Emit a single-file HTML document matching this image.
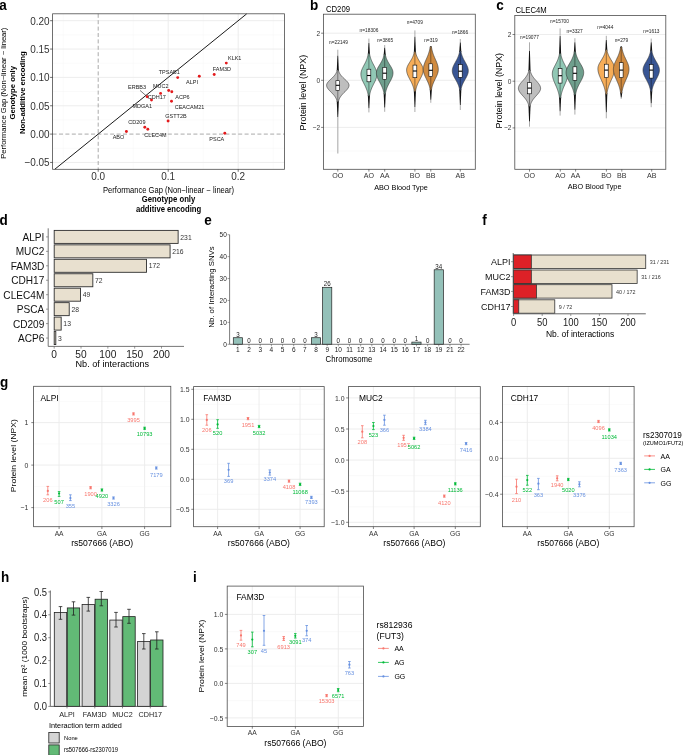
<!DOCTYPE html><html><head><meta charset="utf-8"><style>html,body{margin:0;padding:0;background:#fff;width:685px;height:755px;overflow:hidden}svg{display:block;will-change:transform}text{font-family:"Liberation Sans",sans-serif}</style></head><body><svg width="685" height="755" viewBox="0 0 685 755" font-family="Liberation Sans, sans-serif"><rect x="52.6" y="13.8" width="231.9" height="155.5" fill="#fff" stroke="none" stroke-width="1"/>
<line x1="63.2" y1="13.8" x2="63.2" y2="169.3" stroke="#f4f4f4" stroke-width="0.5"/>
<line x1="133.2" y1="13.8" x2="133.2" y2="169.3" stroke="#f4f4f4" stroke-width="0.5"/>
<line x1="203.2" y1="13.8" x2="203.2" y2="169.3" stroke="#f4f4f4" stroke-width="0.5"/>
<line x1="273.2" y1="13.8" x2="273.2" y2="169.3" stroke="#f4f4f4" stroke-width="0.5"/>
<line x1="52.6" y1="148.28" x2="284.5" y2="148.28" stroke="#f4f4f4" stroke-width="0.5"/>
<line x1="52.6" y1="119.92" x2="284.5" y2="119.92" stroke="#f4f4f4" stroke-width="0.5"/>
<line x1="52.6" y1="91.57" x2="284.5" y2="91.57" stroke="#f4f4f4" stroke-width="0.5"/>
<line x1="52.6" y1="63.22" x2="284.5" y2="63.22" stroke="#f4f4f4" stroke-width="0.5"/>
<line x1="52.6" y1="34.88" x2="284.5" y2="34.88" stroke="#f4f4f4" stroke-width="0.5"/>
<line x1="168.2" y1="13.8" x2="168.2" y2="169.3" stroke="#ebebeb" stroke-width="0.9"/>
<line x1="238.2" y1="13.8" x2="238.2" y2="169.3" stroke="#ebebeb" stroke-width="0.9"/>
<line x1="52.6" y1="162.45" x2="284.5" y2="162.45" stroke="#ebebeb" stroke-width="0.9"/>
<line x1="52.6" y1="105.75" x2="284.5" y2="105.75" stroke="#ebebeb" stroke-width="0.9"/>
<line x1="52.6" y1="77.4" x2="284.5" y2="77.4" stroke="#ebebeb" stroke-width="0.9"/>
<line x1="52.6" y1="49.05" x2="284.5" y2="49.05" stroke="#ebebeb" stroke-width="0.9"/>
<line x1="52.6" y1="20.7" x2="284.5" y2="20.7" stroke="#ebebeb" stroke-width="0.9"/>
<line x1="98.2" y1="13.8" x2="98.2" y2="169.3" stroke="#a0a0a0" stroke-width="0.9" stroke-dasharray="4,2.4"/>
<line x1="52.6" y1="134.1" x2="284.5" y2="134.1" stroke="#a0a0a0" stroke-width="0.9" stroke-dasharray="4,2.4"/>
<line x1="54.74" y1="169.3" x2="246.72" y2="13.8" stroke="#1a1a1a" stroke-width="1"/>
<line x1="140" y1="90.4" x2="147.2" y2="96.7" stroke="#1a1a1a" stroke-width="0.6"/>
<circle cx="226.3" cy="63.1" r="1.45" fill="#e31a1c"/>
<circle cx="214.2" cy="74.5" r="1.45" fill="#e31a1c"/>
<circle cx="199.3" cy="76.3" r="1.45" fill="#e31a1c"/>
<circle cx="177.7" cy="77.6" r="1.45" fill="#e31a1c"/>
<circle cx="168.7" cy="90.5" r="1.45" fill="#e31a1c"/>
<circle cx="171.8" cy="91.8" r="1.45" fill="#e31a1c"/>
<circle cx="160.6" cy="93.4" r="1.45" fill="#e31a1c"/>
<circle cx="147.2" cy="96.7" r="1.45" fill="#e31a1c"/>
<circle cx="151.5" cy="100" r="1.45" fill="#e31a1c"/>
<circle cx="171.5" cy="101.3" r="1.45" fill="#e31a1c"/>
<circle cx="168.1" cy="121" r="1.45" fill="#e31a1c"/>
<circle cx="144.8" cy="127.2" r="1.45" fill="#e31a1c"/>
<circle cx="147.8" cy="129.3" r="1.45" fill="#e31a1c"/>
<circle cx="126.4" cy="131.5" r="1.45" fill="#e31a1c"/>
<circle cx="224.8" cy="133.2" r="1.45" fill="#e31a1c"/>
<text x="0" y="0" font-size="5.5" text-anchor="middle" fill="#222" transform="translate(234.7 59.84) scale(1 1.08)">KLK1</text>
<text x="0" y="0" font-size="5.5" text-anchor="middle" fill="#222" transform="translate(221.9 70.74) scale(1 1.08)">FAM3D</text>
<text x="0" y="0" font-size="5.5" text-anchor="middle" fill="#222" transform="translate(192 83.74) scale(1 1.08)">ALPI</text>
<text x="0" y="0" font-size="5.5" text-anchor="middle" fill="#222" transform="translate(169.3 74.44) scale(1 1.08)">TPSAB1</text>
<text x="0" y="0" font-size="5.5" text-anchor="middle" fill="#222" transform="translate(160.8 87.64) scale(1 1.08)">MUC2</text>
<text x="0" y="0" font-size="5.5" text-anchor="middle" fill="#222" transform="translate(182.5 98.54) scale(1 1.08)">ACP6</text>
<text x="0" y="0" font-size="5.5" text-anchor="middle" fill="#222" transform="translate(137 89.24) scale(1 1.08)">ERBB3</text>
<text x="0" y="0" font-size="5.5" text-anchor="middle" fill="#222" transform="translate(156.8 98.84) scale(1 1.08)">CDH17</text>
<text x="0" y="0" font-size="5.5" text-anchor="middle" fill="#222" transform="translate(142.3 108.24) scale(1 1.08)">MDGA1</text>
<text x="0" y="0" font-size="5.5" text-anchor="middle" fill="#222" transform="translate(189.5 108.54) scale(1 1.08)">CEACAM21</text>
<text x="0" y="0" font-size="5.5" text-anchor="middle" fill="#222" transform="translate(176 117.84) scale(1 1.08)">GSTT2B</text>
<text x="0" y="0" font-size="5.5" text-anchor="middle" fill="#222" transform="translate(136.9 123.74) scale(1 1.08)">CD209</text>
<text x="0" y="0" font-size="5.5" text-anchor="middle" fill="#222" transform="translate(155.5 137.14) scale(1 1.08)">CLEC4M</text>
<text x="0" y="0" font-size="5.5" text-anchor="middle" fill="#222" transform="translate(118.5 138.64) scale(1 1.08)">ABO</text>
<text x="0" y="0" font-size="5.5" text-anchor="middle" fill="#222" transform="translate(216.8 141.14) scale(1 1.08)">PSCA</text>
<rect x="52.6" y="13.8" width="231.9" height="155.5" fill="none" stroke="#4d4d4d" stroke-width="0.8"/>
<line x1="98.2" y1="169.3" x2="98.2" y2="171.8" stroke="#333333" stroke-width="0.7"/>
<text x="0" y="0" font-size="10" text-anchor="middle" fill="#333333" transform="translate(98.2 180.49) scale(1 1.08)">0.0</text>
<line x1="168.2" y1="169.3" x2="168.2" y2="171.8" stroke="#333333" stroke-width="0.7"/>
<text x="0" y="0" font-size="10" text-anchor="middle" fill="#333333" transform="translate(168.2 180.49) scale(1 1.08)">0.1</text>
<line x1="238.2" y1="169.3" x2="238.2" y2="171.8" stroke="#333333" stroke-width="0.7"/>
<text x="0" y="0" font-size="10" text-anchor="middle" fill="#333333" transform="translate(238.2 180.49) scale(1 1.08)">0.2</text>
<line x1="50.1" y1="162.45" x2="52.6" y2="162.45" stroke="#333333" stroke-width="0.7"/>
<text x="0" y="0" font-size="10" text-anchor="end" fill="#333333" transform="translate(49.6 166.34) scale(1 1.08)">−0.05</text>
<line x1="50.1" y1="134.1" x2="52.6" y2="134.1" stroke="#333333" stroke-width="0.7"/>
<text x="0" y="0" font-size="10" text-anchor="end" fill="#333333" transform="translate(49.6 137.99) scale(1 1.08)">0.00</text>
<line x1="50.1" y1="105.75" x2="52.6" y2="105.75" stroke="#333333" stroke-width="0.7"/>
<text x="0" y="0" font-size="10" text-anchor="end" fill="#333333" transform="translate(49.6 109.64) scale(1 1.08)">0.05</text>
<line x1="50.1" y1="77.4" x2="52.6" y2="77.4" stroke="#333333" stroke-width="0.7"/>
<text x="0" y="0" font-size="10" text-anchor="end" fill="#333333" transform="translate(49.6 81.29) scale(1 1.08)">0.10</text>
<line x1="50.1" y1="49.05" x2="52.6" y2="49.05" stroke="#333333" stroke-width="0.7"/>
<text x="0" y="0" font-size="10" text-anchor="end" fill="#333333" transform="translate(49.6 52.94) scale(1 1.08)">0.15</text>
<line x1="50.1" y1="20.7" x2="52.6" y2="20.7" stroke="#333333" stroke-width="0.7"/>
<text x="0" y="0" font-size="10" text-anchor="end" fill="#333333" transform="translate(49.6 24.59) scale(1 1.08)">0.20</text>
<text x="0" y="0" font-size="7.6" text-anchor="middle" fill="#000" transform="translate(168.55 192.56) scale(1 1.08)">Performance Gap (Non−linear − linear)</text>
<text x="0" y="0" font-size="7.7" text-anchor="middle" fill="#000" font-weight="bold" transform="translate(168.55 201.69) scale(1 1.08)">Genotype only</text>
<text x="0" y="0" font-size="7.7" text-anchor="middle" fill="#000" font-weight="bold" transform="translate(168.55 212.19) scale(1 1.08)">additive encoding</text>
<text x="0" y="2.53" font-size="7.04" text-anchor="middle" fill="#000" transform="translate(3.8 93.2) scale(1 1.08) rotate(-90)">Performance Gap (Non−linear − linear)</text>
<text x="0" y="2.57" font-size="7.13" text-anchor="middle" fill="#000" font-weight="bold" transform="translate(12.5 92.7) scale(1 1.08) rotate(-90)">Genotype only</text>
<text x="0" y="2.57" font-size="7.13" text-anchor="middle" fill="#000" font-weight="bold" transform="translate(22.3 92.7) scale(1 1.08) rotate(-90)">Non-additive encoding</text>
<text x="0" y="0" font-size="13.5" font-weight="bold" fill="#000" transform="translate(-0.8 10.4) scale(1 1.08)">a</text>
<rect x="323.4" y="14.2" width="151.9" height="155.1" fill="#fff" stroke="none" stroke-width="1"/>
<line x1="323.4" y1="56.75" x2="475.3" y2="56.75" stroke="#f4f4f4" stroke-width="0.5"/>
<line x1="323.4" y1="103.85" x2="475.3" y2="103.85" stroke="#f4f4f4" stroke-width="0.5"/>
<line x1="323.4" y1="150.95" x2="475.3" y2="150.95" stroke="#f4f4f4" stroke-width="0.5"/>
<line x1="323.4" y1="33.2" x2="475.3" y2="33.2" stroke="#ebebeb" stroke-width="0.9"/>
<line x1="323.4" y1="80.3" x2="475.3" y2="80.3" stroke="#ebebeb" stroke-width="0.9"/>
<line x1="323.4" y1="127.4" x2="475.3" y2="127.4" stroke="#ebebeb" stroke-width="0.9"/>
<line x1="337.8" y1="49.7" x2="337.8" y2="55.82" stroke="#888" stroke-width="0.7"/>
<path d="M337.4,55.82 L338.2,55.82 L338.85,71.1 L336.75,71.1 Z" fill="#111" stroke="none" stroke-width="1"/>
<line x1="337.8" y1="117" x2="337.8" y2="153.6" stroke="#b5b5b5" stroke-width="1.2"/>
<line x1="337.8" y1="117" x2="337.8" y2="117" stroke="#888" stroke-width="0.7"/>
<path d="M337.4,117 L338.2,117 L338.85,100.7 L336.75,100.7 Z" fill="#111" stroke="none" stroke-width="1"/>
<path d="M338.4,70.1 L338.57,70.76 L338.77,71.42 L339.02,72.07 L339.32,72.73 L339.66,73.39 L340.05,74.05 L340.5,74.71 L341.01,75.37 L341.57,76.02 L342.17,76.68 L342.82,77.34 L343.5,78 L344.21,78.66 L344.92,79.32 L345.62,79.97 L346.3,80.63 L346.94,81.29 L347.52,81.95 L348.02,82.61 L348.43,83.27 L348.73,83.92 L348.93,84.58 L349,85.24 L348.96,85.9 L348.81,86.56 L348.56,87.22 L348.22,87.88 L347.8,88.53 L347.3,89.19 L346.74,89.85 L346.14,90.51 L345.5,91.17 L344.85,91.83 L344.19,92.48 L343.54,93.14 L342.9,93.8 L342.3,94.46 L341.72,95.12 L341.19,95.78 L340.71,96.43 L340.27,97.09 L339.87,97.75 L339.53,98.41 L339.22,99.07 L338.96,99.73 L338.74,100.38 L338.56,101.04 L338.4,101.7 L337.2,101.7 L337.04,101.04 L336.86,100.38 L336.64,99.73 L336.38,99.07 L336.07,98.41 L335.73,97.75 L335.33,97.09 L334.89,96.43 L334.41,95.78 L333.88,95.12 L333.3,94.46 L332.7,93.8 L332.06,93.14 L331.41,92.48 L330.75,91.83 L330.1,91.17 L329.46,90.51 L328.86,89.85 L328.3,89.19 L327.8,88.53 L327.38,87.88 L327.04,87.22 L326.79,86.56 L326.64,85.9 L326.6,85.24 L326.67,84.58 L326.87,83.92 L327.17,83.27 L327.58,82.61 L328.08,81.95 L328.66,81.29 L329.3,80.63 L329.98,79.97 L330.68,79.32 L331.39,78.66 L332.1,78 L332.78,77.34 L333.43,76.68 L334.03,76.02 L334.59,75.37 L335.1,74.71 L335.55,74.05 L335.94,73.39 L336.28,72.73 L336.58,72.07 L336.83,71.42 L337.03,70.76 L337.2,70.1 Z" fill="#bebebe" stroke="#333" stroke-width="0.6"/>
<line x1="337.8" y1="71.1" x2="337.8" y2="100.7" stroke="#000" stroke-width="0.9" stroke-opacity="0.45"/>
<rect x="335.9" y="80.7" width="3.8" height="9.8" fill="#fff" stroke="#000" stroke-width="0.6"/>
<line x1="335.9" y1="85.3" x2="339.7" y2="85.3" stroke="#000" stroke-width="1.1"/>
<line x1="368.9" y1="38.6" x2="368.9" y2="43.04" stroke="#888" stroke-width="0.7"/>
<path d="M368.5,43.04 L369.3,43.04 L369.95,54.4 L367.85,54.4 Z" fill="#111" stroke="none" stroke-width="1"/>
<line x1="368.9" y1="112.4" x2="368.9" y2="108.3" stroke="#888" stroke-width="0.7"/>
<path d="M368.5,108.3 L369.3,108.3 L369.95,95 L367.85,95 Z" fill="#111" stroke="none" stroke-width="1"/>
<path d="M369.5,53.4 L369.64,54.29 L369.81,55.17 L370.01,56.06 L370.24,56.95 L370.5,57.84 L370.8,58.73 L371.13,59.61 L371.49,60.5 L371.88,61.39 L372.29,62.27 L372.73,63.16 L373.19,64.05 L373.66,64.94 L374.13,65.83 L374.59,66.71 L375.03,67.6 L375.45,68.49 L375.83,69.38 L376.16,70.26 L376.44,71.15 L376.66,72.04 L376.81,72.92 L376.89,73.81 L376.89,74.7 L376.83,75.59 L376.69,76.47 L376.5,77.36 L376.24,78.25 L375.93,79.14 L375.58,80.03 L375.19,80.91 L374.77,81.8 L374.33,82.69 L373.88,83.58 L373.43,84.46 L372.99,85.35 L372.55,86.24 L372.14,87.12 L371.74,88.01 L371.38,88.9 L371.04,89.79 L370.73,90.67 L370.45,91.56 L370.21,92.45 L369.99,93.34 L369.8,94.22 L369.64,95.11 L369.5,96 L368.3,96 L368.16,95.11 L368,94.22 L367.81,93.34 L367.59,92.45 L367.35,91.56 L367.07,90.67 L366.76,89.79 L366.42,88.9 L366.06,88.01 L365.66,87.12 L365.25,86.24 L364.81,85.35 L364.37,84.46 L363.92,83.58 L363.47,82.69 L363.03,81.8 L362.61,80.91 L362.22,80.03 L361.87,79.14 L361.56,78.25 L361.3,77.36 L361.11,76.47 L360.97,75.59 L360.91,74.7 L360.91,73.81 L360.99,72.92 L361.14,72.04 L361.36,71.15 L361.64,70.26 L361.97,69.38 L362.35,68.49 L362.77,67.6 L363.21,66.71 L363.67,65.83 L364.14,64.94 L364.61,64.05 L365.07,63.16 L365.51,62.27 L365.92,61.39 L366.31,60.5 L366.67,59.61 L367,58.73 L367.3,57.84 L367.56,56.95 L367.79,56.06 L367.99,55.17 L368.16,54.29 L368.3,53.4 Z" fill="#91c8b5" stroke="#333" stroke-width="0.6"/>
<line x1="368.9" y1="54.4" x2="368.9" y2="95" stroke="#000" stroke-width="0.9" stroke-opacity="0.45"/>
<rect x="367" y="69.2" width="3.8" height="12.6" fill="#fff" stroke="#000" stroke-width="0.6"/>
<line x1="367" y1="75.5" x2="370.8" y2="75.5" stroke="#000" stroke-width="1.1"/>
<line x1="384.7" y1="45" x2="384.7" y2="47.79" stroke="#888" stroke-width="0.7"/>
<path d="M384.3,47.79 L385.1,47.79 L385.75,55.3 L383.65,55.3 Z" fill="#111" stroke="none" stroke-width="1"/>
<line x1="384.7" y1="111.8" x2="384.7" y2="107.4" stroke="#888" stroke-width="0.7"/>
<path d="M384.3,107.4 L385.1,107.4 L385.75,93.2 L383.65,93.2 Z" fill="#111" stroke="none" stroke-width="1"/>
<path d="M385.3,54.3 L385.45,55.13 L385.64,55.96 L385.86,56.79 L386.11,57.62 L386.4,58.46 L386.73,59.29 L387.1,60.12 L387.51,60.95 L387.95,61.78 L388.42,62.61 L388.91,63.44 L389.42,64.28 L389.93,65.11 L390.44,65.94 L390.94,66.77 L391.41,67.6 L391.83,68.43 L392.21,69.26 L392.52,70.09 L392.76,70.92 L392.92,71.76 L392.99,72.59 L392.99,73.42 L392.91,74.25 L392.77,75.08 L392.58,75.91 L392.32,76.74 L392.01,77.58 L391.66,78.41 L391.28,79.24 L390.86,80.07 L390.43,80.9 L389.98,81.73 L389.53,82.56 L389.09,83.39 L388.65,84.22 L388.23,85.06 L387.83,85.89 L387.45,86.72 L387.1,87.55 L386.77,88.38 L386.48,89.21 L386.21,90.04 L385.98,90.88 L385.77,91.71 L385.59,92.54 L385.43,93.37 L385.3,94.2 L384.1,94.2 L383.97,93.37 L383.81,92.54 L383.63,91.71 L383.42,90.88 L383.19,90.04 L382.92,89.21 L382.63,88.38 L382.3,87.55 L381.95,86.72 L381.57,85.89 L381.17,85.06 L380.75,84.22 L380.31,83.39 L379.87,82.56 L379.42,81.73 L378.97,80.9 L378.54,80.07 L378.12,79.24 L377.74,78.41 L377.39,77.58 L377.08,76.74 L376.82,75.91 L376.63,75.08 L376.49,74.25 L376.41,73.42 L376.41,72.59 L376.48,71.76 L376.64,70.92 L376.88,70.09 L377.19,69.26 L377.57,68.43 L377.99,67.6 L378.46,66.77 L378.96,65.94 L379.47,65.11 L379.98,64.28 L380.49,63.44 L380.98,62.61 L381.45,61.78 L381.89,60.95 L382.3,60.12 L382.67,59.29 L383,58.46 L383.29,57.62 L383.54,56.79 L383.76,55.96 L383.95,55.13 L384.1,54.3 Z" fill="#6f9f8d" stroke="#333" stroke-width="0.6"/>
<line x1="384.7" y1="55.3" x2="384.7" y2="93.2" stroke="#000" stroke-width="0.9" stroke-opacity="0.45"/>
<rect x="382.8" y="67.3" width="3.8" height="12.1" fill="#fff" stroke="#000" stroke-width="0.6"/>
<line x1="382.8" y1="73.2" x2="386.6" y2="73.2" stroke="#000" stroke-width="1.1"/>
<line x1="414.9" y1="30.4" x2="414.9" y2="36.79" stroke="#888" stroke-width="0.7"/>
<path d="M414.5,36.79 L415.3,36.79 L415.95,52.7 L413.85,52.7 Z" fill="#111" stroke="none" stroke-width="1"/>
<line x1="414.9" y1="112" x2="414.9" y2="106.9" stroke="#888" stroke-width="0.7"/>
<path d="M414.5,106.9 L415.3,106.9 L415.95,90.6 L413.85,90.6 Z" fill="#111" stroke="none" stroke-width="1"/>
<path d="M415.5,51.7 L415.66,52.53 L415.85,53.36 L416.07,54.19 L416.33,55.03 L416.63,55.86 L416.97,56.69 L417.35,57.52 L417.76,58.35 L418.21,59.18 L418.7,60.01 L419.2,60.84 L419.72,61.67 L420.24,62.51 L420.76,63.34 L421.26,64.17 L421.72,65 L422.14,65.83 L422.51,66.66 L422.8,67.49 L423.02,68.33 L423.15,69.16 L423.2,69.99 L423.17,70.82 L423.07,71.65 L422.92,72.48 L422.7,73.31 L422.44,74.14 L422.12,74.97 L421.76,75.81 L421.38,76.64 L420.96,77.47 L420.53,78.3 L420.09,79.13 L419.65,79.96 L419.21,80.79 L418.78,81.62 L418.36,82.46 L417.97,83.29 L417.6,84.12 L417.26,84.95 L416.94,85.78 L416.65,86.61 L416.4,87.44 L416.17,88.28 L415.96,89.11 L415.79,89.94 L415.63,90.77 L415.5,91.6 L414.3,91.6 L414.17,90.77 L414.01,89.94 L413.84,89.11 L413.63,88.28 L413.4,87.44 L413.15,86.61 L412.86,85.78 L412.54,84.95 L412.2,84.12 L411.83,83.29 L411.44,82.46 L411.02,81.62 L410.59,80.79 L410.15,79.96 L409.71,79.13 L409.27,78.3 L408.84,77.47 L408.42,76.64 L408.04,75.81 L407.68,74.97 L407.36,74.14 L407.1,73.31 L406.88,72.48 L406.73,71.65 L406.63,70.82 L406.6,69.99 L406.65,69.16 L406.78,68.33 L407,67.49 L407.29,66.66 L407.66,65.83 L408.08,65 L408.54,64.17 L409.04,63.34 L409.56,62.51 L410.08,61.67 L410.6,60.84 L411.1,60.01 L411.59,59.18 L412.04,58.35 L412.45,57.52 L412.83,56.69 L413.17,55.86 L413.47,55.03 L413.73,54.19 L413.95,53.36 L414.14,52.53 L414.3,51.7 Z" fill="#f6ad58" stroke="#333" stroke-width="0.6"/>
<line x1="414.9" y1="52.7" x2="414.9" y2="90.6" stroke="#000" stroke-width="0.9" stroke-opacity="0.45"/>
<rect x="413" y="65.1" width="3.8" height="12.6" fill="#fff" stroke="#000" stroke-width="0.6"/>
<line x1="413" y1="71" x2="416.8" y2="71" stroke="#000" stroke-width="1.1"/>
<line x1="430.8" y1="46" x2="430.8" y2="46.15" stroke="#888" stroke-width="0.7"/>
<path d="M430.4,46.15 L431.2,46.15 L431.85,47.5 L429.75,47.5 Z" fill="#111" stroke="none" stroke-width="1"/>
<line x1="430.8" y1="102.8" x2="430.8" y2="99.65" stroke="#888" stroke-width="0.7"/>
<path d="M430.4,99.65 L431.2,99.65 L431.85,89.2 L429.75,89.2 Z" fill="#111" stroke="none" stroke-width="1"/>
<path d="M431.4,46.5 L431.53,47.41 L431.68,48.32 L431.85,49.23 L432.05,50.14 L432.28,51.05 L432.53,51.96 L432.8,52.87 L433.11,53.78 L433.43,54.69 L433.78,55.6 L434.15,56.51 L434.54,57.43 L434.94,58.34 L435.34,59.25 L435.74,60.16 L436.14,61.07 L436.52,61.98 L436.89,62.89 L437.22,63.8 L437.52,64.71 L437.78,65.62 L437.99,66.53 L438.15,67.44 L438.25,68.35 L438.3,69.26 L438.28,70.17 L438.19,71.08 L438.03,71.99 L437.81,72.9 L437.52,73.81 L437.19,74.72 L436.81,75.63 L436.4,76.54 L435.97,77.45 L435.52,78.36 L435.07,79.28 L434.63,80.19 L434.2,81.1 L433.78,82.01 L433.4,82.92 L433.04,83.83 L432.71,84.74 L432.41,85.65 L432.15,86.56 L431.92,87.47 L431.72,88.38 L431.55,89.29 L431.4,90.2 L430.2,90.2 L430.05,89.29 L429.88,88.38 L429.68,87.47 L429.45,86.56 L429.19,85.65 L428.89,84.74 L428.56,83.83 L428.2,82.92 L427.82,82.01 L427.4,81.1 L426.97,80.19 L426.53,79.28 L426.08,78.36 L425.63,77.45 L425.2,76.54 L424.79,75.63 L424.41,74.72 L424.08,73.81 L423.79,72.9 L423.57,71.99 L423.41,71.08 L423.32,70.17 L423.3,69.26 L423.35,68.35 L423.45,67.44 L423.61,66.53 L423.82,65.62 L424.08,64.71 L424.38,63.8 L424.71,62.89 L425.08,61.98 L425.46,61.07 L425.86,60.16 L426.26,59.25 L426.66,58.34 L427.06,57.43 L427.45,56.51 L427.82,55.6 L428.17,54.69 L428.49,53.78 L428.8,52.87 L429.07,51.96 L429.32,51.05 L429.55,50.14 L429.75,49.23 L429.92,48.32 L430.07,47.41 L430.2,46.5 Z" fill="#d08b40" stroke="#333" stroke-width="0.6"/>
<line x1="430.8" y1="47.5" x2="430.8" y2="89.2" stroke="#000" stroke-width="0.9" stroke-opacity="0.45"/>
<rect x="428.9" y="63.8" width="3.8" height="12.6" fill="#fff" stroke="#000" stroke-width="0.6"/>
<line x1="428.9" y1="70.3" x2="432.7" y2="70.3" stroke="#000" stroke-width="1.1"/>
<line x1="460.3" y1="39" x2="460.3" y2="42.6" stroke="#888" stroke-width="0.7"/>
<path d="M459.9,42.6 L460.7,42.6 L461.35,52 L459.25,52 Z" fill="#111" stroke="none" stroke-width="1"/>
<line x1="460.3" y1="110" x2="460.3" y2="105.05" stroke="#888" stroke-width="0.7"/>
<path d="M459.9,105.05 L460.7,105.05 L461.35,89.2 L459.25,89.2 Z" fill="#111" stroke="none" stroke-width="1"/>
<path d="M460.9,51 L461.04,51.82 L461.2,52.63 L461.39,53.45 L461.61,54.27 L461.86,55.08 L462.15,55.9 L462.46,56.72 L462.8,57.53 L463.17,58.35 L463.57,59.17 L463.99,59.98 L464.43,60.8 L464.88,61.62 L465.34,62.43 L465.79,63.25 L466.23,64.07 L466.65,64.88 L467.04,65.7 L467.39,66.52 L467.69,67.33 L467.94,68.15 L468.12,68.97 L468.25,69.78 L468.3,70.6 L468.28,71.42 L468.19,72.23 L468.03,73.05 L467.8,73.87 L467.51,74.68 L467.17,75.5 L466.79,76.32 L466.37,77.13 L465.93,77.95 L465.47,78.77 L465,79.58 L464.54,80.4 L464.09,81.22 L463.66,82.03 L463.24,82.85 L462.86,83.67 L462.51,84.48 L462.18,85.3 L461.89,86.12 L461.63,86.93 L461.41,87.75 L461.21,88.57 L461.04,89.38 L460.9,90.2 L459.7,90.2 L459.56,89.38 L459.39,88.57 L459.19,87.75 L458.97,86.93 L458.71,86.12 L458.42,85.3 L458.09,84.48 L457.74,83.67 L457.36,82.85 L456.94,82.03 L456.51,81.22 L456.06,80.4 L455.6,79.58 L455.13,78.77 L454.67,77.95 L454.23,77.13 L453.81,76.32 L453.43,75.5 L453.09,74.68 L452.8,73.87 L452.57,73.05 L452.41,72.23 L452.32,71.42 L452.3,70.6 L452.35,69.78 L452.48,68.97 L452.66,68.15 L452.91,67.33 L453.21,66.52 L453.56,65.7 L453.95,64.88 L454.37,64.07 L454.81,63.25 L455.26,62.43 L455.72,61.62 L456.17,60.8 L456.61,59.98 L457.03,59.17 L457.43,58.35 L457.8,57.53 L458.14,56.72 L458.45,55.9 L458.74,55.08 L458.99,54.27 L459.21,53.45 L459.4,52.63 L459.56,51.82 L459.7,51 Z" fill="#385594" stroke="#333" stroke-width="0.6"/>
<line x1="460.3" y1="52" x2="460.3" y2="89.2" stroke="#000" stroke-width="0.9" stroke-opacity="0.45"/>
<rect x="458.4" y="64.5" width="3.8" height="12.8" fill="#fff" stroke="#000" stroke-width="0.6"/>
<line x1="458.4" y1="71.2" x2="462.2" y2="71.2" stroke="#000" stroke-width="1.1"/>
<text x="0" y="0" font-size="4.8" text-anchor="middle" fill="#222" transform="translate(338.5 44.07) scale(1 1.08)">n=22149</text>
<text x="0" y="0" font-size="4.8" text-anchor="middle" fill="#222" transform="translate(369 32.07) scale(1 1.08)">n=18306</text>
<text x="0" y="0" font-size="4.8" text-anchor="middle" fill="#222" transform="translate(385 41.87) scale(1 1.08)">n=3865</text>
<text x="0" y="0" font-size="4.8" text-anchor="middle" fill="#222" transform="translate(414.8 24.37) scale(1 1.08)">n=4709</text>
<text x="0" y="0" font-size="4.8" text-anchor="middle" fill="#222" transform="translate(430.9 42.37) scale(1 1.08)">n=319</text>
<text x="0" y="0" font-size="4.8" text-anchor="middle" fill="#222" transform="translate(460 34.07) scale(1 1.08)">n=1866</text>
<rect x="323.4" y="14.2" width="151.9" height="155.1" fill="none" stroke="#4d4d4d" stroke-width="0.8"/>
<line x1="321.1" y1="33.2" x2="323.4" y2="33.2" stroke="#333333" stroke-width="0.6"/>
<text x="0" y="0" font-size="6.6" text-anchor="end" fill="#333333" transform="translate(320.1 35.77) scale(1 1.08)">2</text>
<line x1="321.1" y1="80.3" x2="323.4" y2="80.3" stroke="#333333" stroke-width="0.6"/>
<text x="0" y="0" font-size="6.6" text-anchor="end" fill="#333333" transform="translate(320.1 82.87) scale(1 1.08)">0</text>
<line x1="321.1" y1="127.4" x2="323.4" y2="127.4" stroke="#333333" stroke-width="0.6"/>
<text x="0" y="0" font-size="6.6" text-anchor="end" fill="#333333" transform="translate(320.1 129.97) scale(1 1.08)">−2</text>
<line x1="337.8" y1="169.3" x2="337.8" y2="171.6" stroke="#333333" stroke-width="0.6"/>
<text x="0" y="0" font-size="7.1" text-anchor="middle" fill="#333333" transform="translate(337.8 177.66) scale(1 1.08)">OO</text>
<line x1="368.9" y1="169.3" x2="368.9" y2="171.6" stroke="#333333" stroke-width="0.6"/>
<text x="0" y="0" font-size="7.1" text-anchor="middle" fill="#333333" transform="translate(368.9 177.66) scale(1 1.08)">AO</text>
<line x1="384.7" y1="169.3" x2="384.7" y2="171.6" stroke="#333333" stroke-width="0.6"/>
<text x="0" y="0" font-size="7.1" text-anchor="middle" fill="#333333" transform="translate(384.7 177.66) scale(1 1.08)">AA</text>
<line x1="414.9" y1="169.3" x2="414.9" y2="171.6" stroke="#333333" stroke-width="0.6"/>
<text x="0" y="0" font-size="7.1" text-anchor="middle" fill="#333333" transform="translate(414.9 177.66) scale(1 1.08)">BO</text>
<line x1="430.8" y1="169.3" x2="430.8" y2="171.6" stroke="#333333" stroke-width="0.6"/>
<text x="0" y="0" font-size="7.1" text-anchor="middle" fill="#333333" transform="translate(430.8 177.66) scale(1 1.08)">BB</text>
<line x1="460.3" y1="169.3" x2="460.3" y2="171.6" stroke="#333333" stroke-width="0.6"/>
<text x="0" y="0" font-size="7.1" text-anchor="middle" fill="#333333" transform="translate(460.3 177.66) scale(1 1.08)">AB</text>
<text x="0" y="0" font-size="7.3" text-anchor="middle" fill="#000" transform="translate(401 190.37) scale(1 1.08)">ABO Blood Type</text>
<text x="0" y="2.97" font-size="8.24" text-anchor="middle" fill="#000" transform="translate(303.5 92.6) scale(1 1.08) rotate(-90)">Protein level (NPX)</text>
<text x="0" y="0" font-size="7.7" text-anchor="start" fill="#000" transform="translate(326 11.89) scale(1 1.08)">CD209</text>
<text x="0" y="0" font-size="13.5" font-weight="bold" fill="#000" transform="translate(309.9 10.4) scale(1 1.08)">b</text>
<rect x="514.8" y="15.4" width="151" height="153.9" fill="#fff" stroke="none" stroke-width="1"/>
<line x1="514.8" y1="57.85" x2="665.8" y2="57.85" stroke="#f4f4f4" stroke-width="0.5"/>
<line x1="514.8" y1="104.55" x2="665.8" y2="104.55" stroke="#f4f4f4" stroke-width="0.5"/>
<line x1="514.8" y1="151.25" x2="665.8" y2="151.25" stroke="#f4f4f4" stroke-width="0.5"/>
<line x1="514.8" y1="34.5" x2="665.8" y2="34.5" stroke="#ebebeb" stroke-width="0.9"/>
<line x1="514.8" y1="81.2" x2="665.8" y2="81.2" stroke="#ebebeb" stroke-width="0.9"/>
<line x1="514.8" y1="127.9" x2="665.8" y2="127.9" stroke="#ebebeb" stroke-width="0.9"/>
<line x1="529.5" y1="42.3" x2="529.5" y2="50.64" stroke="#888" stroke-width="0.7"/>
<path d="M529.1,50.64 L529.9,50.64 L530.55,71.1 L528.45,71.1 Z" fill="#111" stroke="none" stroke-width="1"/>
<line x1="529.5" y1="126.7" x2="529.5" y2="121.6" stroke="#888" stroke-width="0.7"/>
<path d="M529.1,121.6 L529.9,121.6 L530.55,105.3 L528.45,105.3 Z" fill="#111" stroke="none" stroke-width="1"/>
<path d="M530.1,70.1 L530.26,70.85 L530.45,71.61 L530.68,72.36 L530.96,73.12 L531.27,73.87 L531.64,74.62 L532.05,75.38 L532.51,76.13 L533.02,76.89 L533.58,77.64 L534.18,78.4 L534.81,79.15 L535.47,79.9 L536.14,80.66 L536.81,81.41 L537.47,82.17 L538.1,82.92 L538.69,83.67 L539.23,84.43 L539.69,85.18 L540.07,85.94 L540.35,86.69 L540.53,87.45 L540.6,88.2 L540.56,88.95 L540.4,89.71 L540.14,90.46 L539.78,91.22 L539.33,91.97 L538.81,92.72 L538.22,93.48 L537.58,94.23 L536.92,94.99 L536.24,95.74 L535.56,96.5 L534.9,97.25 L534.25,98 L533.65,98.76 L533.08,99.51 L532.56,100.27 L532.08,101.02 L531.66,101.77 L531.29,102.53 L530.97,103.28 L530.69,104.04 L530.46,104.79 L530.26,105.55 L530.1,106.3 L528.9,106.3 L528.74,105.55 L528.54,104.79 L528.31,104.04 L528.03,103.28 L527.71,102.53 L527.34,101.77 L526.92,101.02 L526.44,100.27 L525.92,99.51 L525.35,98.76 L524.75,98 L524.1,97.25 L523.44,96.5 L522.76,95.74 L522.08,94.99 L521.42,94.23 L520.78,93.48 L520.19,92.72 L519.67,91.97 L519.22,91.22 L518.86,90.46 L518.6,89.71 L518.44,88.95 L518.4,88.2 L518.47,87.45 L518.65,86.69 L518.93,85.94 L519.31,85.18 L519.77,84.43 L520.31,83.67 L520.9,82.92 L521.53,82.17 L522.19,81.41 L522.86,80.66 L523.53,79.9 L524.19,79.15 L524.82,78.4 L525.42,77.64 L525.98,76.89 L526.49,76.13 L526.95,75.38 L527.36,74.62 L527.73,73.87 L528.04,73.12 L528.32,72.36 L528.55,71.61 L528.74,70.85 L528.9,70.1 Z" fill="#bebebe" stroke="#333" stroke-width="0.6"/>
<line x1="529.5" y1="71.1" x2="529.5" y2="105.3" stroke="#000" stroke-width="0.9" stroke-opacity="0.45"/>
<rect x="527.6" y="82.7" width="3.8" height="11.1" fill="#fff" stroke="#000" stroke-width="0.6"/>
<line x1="527.6" y1="88.1" x2="531.4" y2="88.1" stroke="#000" stroke-width="1.1"/>
<line x1="560.1" y1="28.4" x2="560.1" y2="35.9" stroke="#888" stroke-width="0.7"/>
<path d="M559.7,35.9 L560.5,35.9 L561.15,54.4 L559.05,54.4 Z" fill="#111" stroke="none" stroke-width="1"/>
<line x1="560.1" y1="115.6" x2="560.1" y2="111.2" stroke="#888" stroke-width="0.7"/>
<path d="M559.7,111.2 L560.5,111.2 L561.15,97 L559.05,97 Z" fill="#111" stroke="none" stroke-width="1"/>
<path d="M560.7,53.4 L560.85,54.33 L561.04,55.26 L561.25,56.19 L561.5,57.12 L561.79,58.05 L562.11,58.98 L562.47,59.9 L562.87,60.83 L563.29,61.76 L563.75,62.69 L564.22,63.62 L564.7,64.55 L565.19,65.48 L565.67,66.41 L566.13,67.34 L566.56,68.27 L566.94,69.2 L567.28,70.12 L567.55,71.05 L567.74,71.98 L567.86,72.91 L567.9,73.84 L567.87,74.77 L567.78,75.7 L567.63,76.63 L567.43,77.56 L567.18,78.49 L566.89,79.42 L566.57,80.35 L566.21,81.28 L565.82,82.2 L565.43,83.13 L565.02,84.06 L564.61,84.99 L564.2,85.92 L563.8,86.85 L563.41,87.78 L563.05,88.71 L562.7,89.64 L562.38,90.57 L562.08,91.5 L561.81,92.42 L561.56,93.35 L561.34,94.28 L561.15,95.21 L560.98,96.14 L560.83,97.07 L560.7,98 L559.5,98 L559.37,97.07 L559.22,96.14 L559.05,95.21 L558.86,94.28 L558.64,93.35 L558.39,92.42 L558.12,91.5 L557.82,90.57 L557.5,89.64 L557.15,88.71 L556.79,87.78 L556.4,86.85 L556,85.92 L555.59,84.99 L555.18,84.06 L554.77,83.13 L554.38,82.2 L553.99,81.28 L553.63,80.35 L553.31,79.42 L553.02,78.49 L552.77,77.56 L552.57,76.63 L552.42,75.7 L552.33,74.77 L552.3,73.84 L552.34,72.91 L552.46,71.98 L552.65,71.05 L552.92,70.12 L553.26,69.2 L553.64,68.27 L554.07,67.34 L554.53,66.41 L555.01,65.48 L555.5,64.55 L555.98,63.62 L556.45,62.69 L556.91,61.76 L557.33,60.83 L557.73,59.9 L558.09,58.98 L558.41,58.05 L558.7,57.12 L558.95,56.19 L559.16,55.26 L559.35,54.33 L559.5,53.4 Z" fill="#91c8b5" stroke="#333" stroke-width="0.6"/>
<line x1="560.1" y1="54.4" x2="560.1" y2="97" stroke="#000" stroke-width="0.9" stroke-opacity="0.45"/>
<rect x="558.2" y="68.6" width="3.8" height="14.5" fill="#fff" stroke="#000" stroke-width="0.6"/>
<line x1="558.2" y1="75.7" x2="562" y2="75.7" stroke="#000" stroke-width="1.1"/>
<line x1="574.9" y1="38.2" x2="574.9" y2="42.19" stroke="#888" stroke-width="0.7"/>
<path d="M574.5,42.19 L575.3,42.19 L575.95,52.5 L573.85,52.5 Z" fill="#111" stroke="none" stroke-width="1"/>
<line x1="574.9" y1="114.6" x2="574.9" y2="109.72" stroke="#888" stroke-width="0.7"/>
<path d="M574.5,109.72 L575.3,109.72 L575.95,94.1 L573.85,94.1 Z" fill="#111" stroke="none" stroke-width="1"/>
<path d="M575.5,51.5 L575.65,52.41 L575.84,53.32 L576.05,54.23 L576.3,55.13 L576.59,56.04 L576.92,56.95 L577.29,57.86 L577.69,58.77 L578.13,59.67 L578.61,60.58 L579.11,61.49 L579.63,62.4 L580.16,63.31 L580.69,64.22 L581.22,65.12 L581.72,66.03 L582.19,66.94 L582.61,67.85 L582.98,68.76 L583.28,69.67 L583.5,70.58 L583.64,71.48 L583.7,72.39 L583.67,73.3 L583.57,74.21 L583.39,75.12 L583.14,76.02 L582.84,76.93 L582.47,77.84 L582.07,78.75 L581.62,79.66 L581.15,80.57 L580.66,81.47 L580.17,82.38 L579.67,83.29 L579.18,84.2 L578.71,85.11 L578.27,86.02 L577.85,86.92 L577.46,87.83 L577.1,88.74 L576.77,89.65 L576.48,90.56 L576.23,91.47 L576,92.38 L575.81,93.28 L575.64,94.19 L575.5,95.1 L574.3,95.1 L574.16,94.19 L573.99,93.28 L573.8,92.38 L573.57,91.47 L573.32,90.56 L573.03,89.65 L572.7,88.74 L572.34,87.83 L571.95,86.92 L571.53,86.02 L571.09,85.11 L570.62,84.2 L570.13,83.29 L569.63,82.38 L569.14,81.47 L568.65,80.57 L568.18,79.66 L567.73,78.75 L567.33,77.84 L566.96,76.93 L566.66,76.02 L566.41,75.12 L566.23,74.21 L566.13,73.3 L566.1,72.39 L566.16,71.48 L566.3,70.58 L566.52,69.67 L566.82,68.76 L567.19,67.85 L567.61,66.94 L568.08,66.03 L568.58,65.12 L569.11,64.22 L569.64,63.31 L570.17,62.4 L570.69,61.49 L571.19,60.58 L571.67,59.67 L572.11,58.77 L572.51,57.86 L572.88,56.95 L573.21,56.04 L573.5,55.13 L573.75,54.23 L573.96,53.32 L574.15,52.41 L574.3,51.5 Z" fill="#6f9f8d" stroke="#333" stroke-width="0.6"/>
<line x1="574.9" y1="52.5" x2="574.9" y2="94.1" stroke="#000" stroke-width="0.9" stroke-opacity="0.45"/>
<rect x="573" y="66.8" width="3.8" height="13.5" fill="#fff" stroke="#000" stroke-width="0.6"/>
<line x1="573" y1="73.3" x2="576.8" y2="73.3" stroke="#000" stroke-width="1.1"/>
<line x1="606.3" y1="35.8" x2="606.3" y2="39.97" stroke="#888" stroke-width="0.7"/>
<path d="M605.9,39.97 L606.7,39.97 L607.35,50.7 L605.25,50.7 Z" fill="#111" stroke="none" stroke-width="1"/>
<line x1="606.3" y1="118.3" x2="606.3" y2="112.28" stroke="#888" stroke-width="0.7"/>
<path d="M605.9,112.28 L606.7,112.28 L607.35,93.2 L605.25,93.2 Z" fill="#111" stroke="none" stroke-width="1"/>
<path d="M606.9,49.7 L607.07,50.63 L607.28,51.55 L607.53,52.48 L607.83,53.41 L608.17,54.34 L608.56,55.26 L608.99,56.19 L609.47,57.12 L609.99,58.04 L610.53,58.97 L611.1,59.9 L611.67,60.83 L612.24,61.75 L612.78,62.68 L613.29,63.61 L613.73,64.53 L614.11,65.46 L614.4,66.39 L614.6,67.31 L614.69,68.24 L614.69,69.17 L614.62,70.1 L614.5,71.02 L614.33,71.95 L614.1,72.88 L613.83,73.8 L613.52,74.73 L613.17,75.66 L612.8,76.59 L612.4,77.51 L611.99,78.44 L611.57,79.37 L611.14,80.29 L610.72,81.22 L610.31,82.15 L609.91,83.08 L609.53,84 L609.17,84.93 L608.83,85.86 L608.52,86.78 L608.23,87.71 L607.97,88.64 L607.73,89.56 L607.52,90.49 L607.33,91.42 L607.17,92.35 L607.02,93.27 L606.9,94.2 L605.7,94.2 L605.58,93.27 L605.43,92.35 L605.27,91.42 L605.08,90.49 L604.87,89.56 L604.63,88.64 L604.37,87.71 L604.08,86.78 L603.77,85.86 L603.43,84.93 L603.07,84 L602.69,83.08 L602.29,82.15 L601.88,81.22 L601.46,80.29 L601.03,79.37 L600.61,78.44 L600.2,77.51 L599.8,76.59 L599.43,75.66 L599.08,74.73 L598.77,73.8 L598.5,72.88 L598.27,71.95 L598.1,71.02 L597.98,70.1 L597.91,69.17 L597.91,68.24 L598,67.31 L598.2,66.39 L598.49,65.46 L598.87,64.53 L599.31,63.61 L599.82,62.68 L600.36,61.75 L600.93,60.83 L601.5,59.9 L602.07,58.97 L602.61,58.04 L603.13,57.12 L603.61,56.19 L604.04,55.26 L604.43,54.34 L604.77,53.41 L605.07,52.48 L605.32,51.55 L605.53,50.63 L605.7,49.7 Z" fill="#f6ad58" stroke="#333" stroke-width="0.6"/>
<line x1="606.3" y1="50.7" x2="606.3" y2="93.2" stroke="#000" stroke-width="0.9" stroke-opacity="0.45"/>
<rect x="604.4" y="64.2" width="3.8" height="13.3" fill="#fff" stroke="#000" stroke-width="0.6"/>
<line x1="604.4" y1="70.1" x2="608.2" y2="70.1" stroke="#000" stroke-width="1.1"/>
<line x1="621.2" y1="46" x2="621.2" y2="46.3" stroke="#888" stroke-width="0.7"/>
<path d="M620.8,46.3 L621.6,46.3 L622.25,48 L620.15,48 Z" fill="#111" stroke="none" stroke-width="1"/>
<line x1="621.2" y1="98.9" x2="621.2" y2="97.5" stroke="#888" stroke-width="0.7"/>
<path d="M620.8,97.5 L621.6,97.5 L622.25,92.3 L620.15,92.3 Z" fill="#111" stroke="none" stroke-width="1"/>
<path d="M621.8,47 L621.95,47.96 L622.12,48.93 L622.32,49.89 L622.55,50.86 L622.82,51.82 L623.12,52.79 L623.45,53.75 L623.82,54.72 L624.21,55.68 L624.63,56.65 L625.08,57.61 L625.53,58.57 L626,59.54 L626.46,60.5 L626.91,61.47 L627.35,62.43 L627.75,63.4 L628.11,64.36 L628.41,65.33 L628.66,66.29 L628.85,67.26 L628.96,68.22 L629,69.19 L628.97,70.15 L628.87,71.11 L628.72,72.08 L628.51,73.04 L628.24,74.01 L627.93,74.97 L627.58,75.94 L627.2,76.9 L626.8,77.87 L626.38,78.83 L625.95,79.8 L625.52,80.76 L625.1,81.72 L624.69,82.69 L624.3,83.65 L623.93,84.62 L623.58,85.58 L623.26,86.55 L622.97,87.51 L622.71,88.48 L622.48,89.44 L622.27,90.41 L622.09,91.37 L621.93,92.34 L621.8,93.3 L620.6,93.3 L620.47,92.34 L620.31,91.37 L620.13,90.41 L619.92,89.44 L619.69,88.48 L619.43,87.51 L619.14,86.55 L618.82,85.58 L618.47,84.62 L618.1,83.65 L617.71,82.69 L617.3,81.72 L616.88,80.76 L616.45,79.8 L616.02,78.83 L615.6,77.87 L615.2,76.9 L614.82,75.94 L614.47,74.97 L614.16,74.01 L613.89,73.04 L613.68,72.08 L613.53,71.11 L613.43,70.15 L613.4,69.19 L613.44,68.22 L613.55,67.26 L613.74,66.29 L613.99,65.33 L614.29,64.36 L614.65,63.4 L615.05,62.43 L615.49,61.47 L615.94,60.5 L616.4,59.54 L616.87,58.57 L617.32,57.61 L617.77,56.65 L618.19,55.68 L618.58,54.72 L618.95,53.75 L619.28,52.79 L619.58,51.82 L619.85,50.86 L620.08,49.89 L620.28,48.93 L620.45,47.96 L620.6,47 Z" fill="#d08b40" stroke="#333" stroke-width="0.6"/>
<line x1="621.2" y1="48" x2="621.2" y2="92.3" stroke="#000" stroke-width="0.9" stroke-opacity="0.45"/>
<rect x="619.3" y="62.7" width="3.8" height="14.8" fill="#fff" stroke="#000" stroke-width="0.6"/>
<line x1="619.3" y1="70.1" x2="623.1" y2="70.1" stroke="#000" stroke-width="1.1"/>
<line x1="651.2" y1="38.6" x2="651.2" y2="42.2" stroke="#888" stroke-width="0.7"/>
<path d="M650.8,42.2 L651.6,42.2 L652.25,51.6 L650.15,51.6 Z" fill="#111" stroke="none" stroke-width="1"/>
<line x1="651.2" y1="107.2" x2="651.2" y2="103.25" stroke="#888" stroke-width="0.7"/>
<path d="M650.8,103.25 L651.6,103.25 L652.25,90.4 L650.15,90.4 Z" fill="#111" stroke="none" stroke-width="1"/>
<path d="M651.8,50.6 L651.95,51.45 L652.13,52.3 L652.34,53.15 L652.58,54 L652.86,54.85 L653.17,55.7 L653.52,56.55 L653.9,57.4 L654.32,58.25 L654.77,59.1 L655.24,59.95 L655.72,60.8 L656.22,61.65 L656.71,62.5 L657.19,63.35 L657.65,64.2 L658.08,65.05 L658.46,65.9 L658.79,66.75 L659.06,67.6 L659.25,68.45 L659.36,69.3 L659.4,70.15 L659.36,71 L659.26,71.85 L659.09,72.7 L658.86,73.55 L658.57,74.4 L658.24,75.25 L657.86,76.1 L657.46,76.95 L657.03,77.8 L656.58,78.65 L656.13,79.5 L655.68,80.35 L655.23,81.2 L654.8,82.05 L654.39,82.9 L654,83.75 L653.64,84.6 L653.31,85.45 L653.01,86.3 L652.74,87.15 L652.49,88 L652.28,88.85 L652.1,89.7 L651.94,90.55 L651.8,91.4 L650.6,91.4 L650.46,90.55 L650.3,89.7 L650.12,88.85 L649.91,88 L649.66,87.15 L649.39,86.3 L649.09,85.45 L648.76,84.6 L648.4,83.75 L648.01,82.9 L647.6,82.05 L647.17,81.2 L646.72,80.35 L646.27,79.5 L645.82,78.65 L645.37,77.8 L644.94,76.95 L644.54,76.1 L644.16,75.25 L643.83,74.4 L643.54,73.55 L643.31,72.7 L643.14,71.85 L643.04,71 L643,70.15 L643.04,69.3 L643.15,68.45 L643.34,67.6 L643.61,66.75 L643.94,65.9 L644.32,65.05 L644.75,64.2 L645.21,63.35 L645.69,62.5 L646.18,61.65 L646.68,60.8 L647.16,59.95 L647.63,59.1 L648.08,58.25 L648.5,57.4 L648.88,56.55 L649.23,55.7 L649.54,54.85 L649.82,54 L650.06,53.15 L650.27,52.3 L650.45,51.45 L650.6,50.6 Z" fill="#385594" stroke="#333" stroke-width="0.6"/>
<line x1="651.2" y1="51.6" x2="651.2" y2="90.4" stroke="#000" stroke-width="0.9" stroke-opacity="0.45"/>
<rect x="649.3" y="64.5" width="3.8" height="13.6" fill="#fff" stroke="#000" stroke-width="0.6"/>
<line x1="649.3" y1="70.1" x2="653.1" y2="70.1" stroke="#000" stroke-width="1.1"/>
<text x="0" y="0" font-size="4.8" text-anchor="middle" fill="#222" transform="translate(529.4 39.27) scale(1 1.08)">n=19077</text>
<text x="0" y="0" font-size="4.8" text-anchor="middle" fill="#222" transform="translate(559.5 22.87) scale(1 1.08)">n=15700</text>
<text x="0" y="0" font-size="4.8" text-anchor="middle" fill="#222" transform="translate(574.6 32.57) scale(1 1.08)">n=3327</text>
<text x="0" y="0" font-size="4.8" text-anchor="middle" fill="#222" transform="translate(605.3 29.07) scale(1 1.08)">n=4044</text>
<text x="0" y="0" font-size="4.8" text-anchor="middle" fill="#222" transform="translate(621.4 41.87) scale(1 1.08)">n=279</text>
<text x="0" y="0" font-size="4.8" text-anchor="middle" fill="#222" transform="translate(651.4 32.57) scale(1 1.08)">n=1613</text>
<rect x="514.8" y="15.4" width="151" height="153.9" fill="none" stroke="#4d4d4d" stroke-width="0.8"/>
<line x1="512.5" y1="34.5" x2="514.8" y2="34.5" stroke="#333333" stroke-width="0.6"/>
<text x="0" y="0" font-size="6.6" text-anchor="end" fill="#333333" transform="translate(511.5 37.07) scale(1 1.08)">2</text>
<line x1="512.5" y1="81.2" x2="514.8" y2="81.2" stroke="#333333" stroke-width="0.6"/>
<text x="0" y="0" font-size="6.6" text-anchor="end" fill="#333333" transform="translate(511.5 83.77) scale(1 1.08)">0</text>
<line x1="512.5" y1="127.9" x2="514.8" y2="127.9" stroke="#333333" stroke-width="0.6"/>
<text x="0" y="0" font-size="6.6" text-anchor="end" fill="#333333" transform="translate(511.5 130.47) scale(1 1.08)">−2</text>
<line x1="529.5" y1="169.3" x2="529.5" y2="171.6" stroke="#333333" stroke-width="0.6"/>
<text x="0" y="0" font-size="7.1" text-anchor="middle" fill="#333333" transform="translate(529.5 177.86) scale(1 1.08)">OO</text>
<line x1="560.3" y1="169.3" x2="560.3" y2="171.6" stroke="#333333" stroke-width="0.6"/>
<text x="0" y="0" font-size="7.1" text-anchor="middle" fill="#333333" transform="translate(560.3 177.86) scale(1 1.08)">AO</text>
<line x1="575.6" y1="169.3" x2="575.6" y2="171.6" stroke="#333333" stroke-width="0.6"/>
<text x="0" y="0" font-size="7.1" text-anchor="middle" fill="#333333" transform="translate(575.6 177.86) scale(1 1.08)">AA</text>
<line x1="606.4" y1="169.3" x2="606.4" y2="171.6" stroke="#333333" stroke-width="0.6"/>
<text x="0" y="0" font-size="7.1" text-anchor="middle" fill="#333333" transform="translate(606.4 177.86) scale(1 1.08)">BO</text>
<line x1="621.8" y1="169.3" x2="621.8" y2="171.6" stroke="#333333" stroke-width="0.6"/>
<text x="0" y="0" font-size="7.1" text-anchor="middle" fill="#333333" transform="translate(621.8 177.86) scale(1 1.08)">BB</text>
<line x1="651.7" y1="169.3" x2="651.7" y2="171.6" stroke="#333333" stroke-width="0.6"/>
<text x="0" y="0" font-size="7.1" text-anchor="middle" fill="#333333" transform="translate(651.7 177.86) scale(1 1.08)">AB</text>
<text x="0" y="0" font-size="7.3" text-anchor="middle" fill="#000" transform="translate(594.6 188.97) scale(1 1.08)">ABO Blood Type</text>
<text x="0" y="2.97" font-size="8.24" text-anchor="middle" fill="#000" transform="translate(498.9 90.7) scale(1 1.08) rotate(-90)">Protein level (NPX)</text>
<text x="0" y="0" font-size="7.7" text-anchor="start" fill="#000" transform="translate(515.5 13.09) scale(1 1.08)">CLEC4M</text>
<text x="0" y="0" font-size="13.5" font-weight="bold" fill="#000" transform="translate(496.2 10.4) scale(1 1.08)">c</text>
<rect x="54.2" y="230.4" width="123.93" height="13" fill="#e8e0cf" stroke="#2e2e2e" stroke-width="0.9"/>
<text x="0" y="0" font-size="6.8" text-anchor="start" fill="#333" transform="translate(180.33 239.54) scale(1 1.08)">231</text>
<line x1="46" y1="236.9" x2="48.2" y2="236.9" stroke="#555" stroke-width="0.6"/>
<text x="0" y="0" font-size="10.1" text-anchor="end" fill="#111" transform="translate(44.3 240.83) scale(1 1.08)">ALPI</text>
<rect x="54.2" y="244.85" width="115.88" height="13" fill="#e8e0cf" stroke="#2e2e2e" stroke-width="0.9"/>
<text x="0" y="0" font-size="6.8" text-anchor="start" fill="#333" transform="translate(172.28 253.99) scale(1 1.08)">216</text>
<line x1="46" y1="251.35" x2="48.2" y2="251.35" stroke="#555" stroke-width="0.6"/>
<text x="0" y="0" font-size="10.1" text-anchor="end" fill="#111" transform="translate(44.3 255.28) scale(1 1.08)">MUC2</text>
<rect x="54.2" y="259.3" width="92.28" height="13" fill="#e8e0cf" stroke="#2e2e2e" stroke-width="0.9"/>
<text x="0" y="0" font-size="6.8" text-anchor="start" fill="#333" transform="translate(148.68 268.44) scale(1 1.08)">172</text>
<line x1="46" y1="265.8" x2="48.2" y2="265.8" stroke="#555" stroke-width="0.6"/>
<text x="0" y="0" font-size="10.1" text-anchor="end" fill="#111" transform="translate(44.3 269.73) scale(1 1.08)">FAM3D</text>
<rect x="54.2" y="273.75" width="38.63" height="13" fill="#e8e0cf" stroke="#2e2e2e" stroke-width="0.9"/>
<text x="0" y="0" font-size="6.8" text-anchor="start" fill="#333" transform="translate(95.03 282.89) scale(1 1.08)">72</text>
<line x1="46" y1="280.25" x2="48.2" y2="280.25" stroke="#555" stroke-width="0.6"/>
<text x="0" y="0" font-size="10.1" text-anchor="end" fill="#111" transform="translate(44.3 284.18) scale(1 1.08)">CDH17</text>
<rect x="54.2" y="288.2" width="26.29" height="13" fill="#e8e0cf" stroke="#2e2e2e" stroke-width="0.9"/>
<text x="0" y="0" font-size="6.8" text-anchor="start" fill="#333" transform="translate(82.69 297.34) scale(1 1.08)">49</text>
<line x1="46" y1="294.7" x2="48.2" y2="294.7" stroke="#555" stroke-width="0.6"/>
<text x="0" y="0" font-size="10.1" text-anchor="end" fill="#111" transform="translate(44.3 298.63) scale(1 1.08)">CLEC4M</text>
<rect x="54.2" y="302.65" width="15.02" height="13" fill="#e8e0cf" stroke="#2e2e2e" stroke-width="0.9"/>
<text x="0" y="0" font-size="6.8" text-anchor="start" fill="#333" transform="translate(71.42 311.79) scale(1 1.08)">28</text>
<line x1="46" y1="309.15" x2="48.2" y2="309.15" stroke="#555" stroke-width="0.6"/>
<text x="0" y="0" font-size="10.1" text-anchor="end" fill="#111" transform="translate(44.3 313.08) scale(1 1.08)">PSCA</text>
<rect x="54.2" y="317.1" width="6.97" height="13" fill="#e8e0cf" stroke="#2e2e2e" stroke-width="0.9"/>
<text x="0" y="0" font-size="6.8" text-anchor="start" fill="#333" transform="translate(63.37 326.24) scale(1 1.08)">13</text>
<line x1="46" y1="323.6" x2="48.2" y2="323.6" stroke="#555" stroke-width="0.6"/>
<text x="0" y="0" font-size="10.1" text-anchor="end" fill="#111" transform="translate(44.3 327.53) scale(1 1.08)">CD209</text>
<rect x="54.2" y="331.55" width="1.61" height="13" fill="#e8e0cf" stroke="#2e2e2e" stroke-width="0.9"/>
<text x="0" y="0" font-size="6.8" text-anchor="start" fill="#333" transform="translate(58.01 340.69) scale(1 1.08)">3</text>
<line x1="46" y1="338.05" x2="48.2" y2="338.05" stroke="#555" stroke-width="0.6"/>
<text x="0" y="0" font-size="10.1" text-anchor="end" fill="#111" transform="translate(44.3 341.98) scale(1 1.08)">ACP6</text>
<line x1="48.2" y1="228.3" x2="48.2" y2="346.4" stroke="#666" stroke-width="0.9"/>
<line x1="48.2" y1="346.4" x2="184" y2="346.4" stroke="#666" stroke-width="0.9"/>
<line x1="54.2" y1="346.4" x2="54.2" y2="348.6" stroke="#555" stroke-width="0.6"/>
<text x="0" y="0" font-size="10.2" text-anchor="middle" fill="#222" transform="translate(54.2 358.37) scale(1 1.08)">0</text>
<line x1="81.03" y1="346.4" x2="81.03" y2="348.6" stroke="#555" stroke-width="0.6"/>
<text x="0" y="0" font-size="10.2" text-anchor="middle" fill="#222" transform="translate(81.03 358.37) scale(1 1.08)">50</text>
<line x1="107.85" y1="346.4" x2="107.85" y2="348.6" stroke="#555" stroke-width="0.6"/>
<text x="0" y="0" font-size="10.2" text-anchor="middle" fill="#222" transform="translate(107.85 358.37) scale(1 1.08)">100</text>
<line x1="134.68" y1="346.4" x2="134.68" y2="348.6" stroke="#555" stroke-width="0.6"/>
<text x="0" y="0" font-size="10.2" text-anchor="middle" fill="#222" transform="translate(134.68 358.37) scale(1 1.08)">150</text>
<line x1="161.5" y1="346.4" x2="161.5" y2="348.6" stroke="#555" stroke-width="0.6"/>
<text x="0" y="0" font-size="10.2" text-anchor="middle" fill="#222" transform="translate(161.5 358.37) scale(1 1.08)">200</text>
<text x="0" y="0" font-size="9.15" text-anchor="middle" fill="#000" transform="translate(112.3 367.36) scale(1 1.08)">Nb. of interactions</text>
<text x="0" y="0" font-size="13.5" font-weight="bold" fill="#000" transform="translate(-0.6 225.4) scale(1 1.08)">d</text>
<rect x="233.3" y="337.72" width="9.2" height="6.58" fill="#94c1b9" stroke="#222" stroke-width="0.7"/>
<text x="0" y="0" font-size="6.2" text-anchor="middle" fill="#222" transform="translate(237.9 336.73) scale(1 1.08)">3</text>
<line x1="237.9" y1="344.3" x2="237.9" y2="346.3" stroke="#444" stroke-width="0.5"/>
<text x="0" y="0" font-size="6.5" text-anchor="middle" fill="#222" transform="translate(237.9 352.13) scale(1 1.08)">1</text>
<text x="0" y="0" font-size="6.2" text-anchor="middle" fill="#222" transform="translate(249.06 343.31) scale(1 1.08)">0</text>
<line x1="249.06" y1="344.3" x2="249.06" y2="346.3" stroke="#444" stroke-width="0.5"/>
<text x="0" y="0" font-size="6.5" text-anchor="middle" fill="#222" transform="translate(249.06 352.13) scale(1 1.08)">2</text>
<text x="0" y="0" font-size="6.2" text-anchor="middle" fill="#222" transform="translate(260.22 343.31) scale(1 1.08)">0</text>
<line x1="260.22" y1="344.3" x2="260.22" y2="346.3" stroke="#444" stroke-width="0.5"/>
<text x="0" y="0" font-size="6.5" text-anchor="middle" fill="#222" transform="translate(260.22 352.13) scale(1 1.08)">3</text>
<text x="0" y="0" font-size="6.2" text-anchor="middle" fill="#222" transform="translate(271.38 343.31) scale(1 1.08)">0</text>
<line x1="271.38" y1="344.3" x2="271.38" y2="346.3" stroke="#444" stroke-width="0.5"/>
<text x="0" y="0" font-size="6.5" text-anchor="middle" fill="#222" transform="translate(271.38 352.13) scale(1 1.08)">4</text>
<text x="0" y="0" font-size="6.2" text-anchor="middle" fill="#222" transform="translate(282.54 343.31) scale(1 1.08)">0</text>
<line x1="282.54" y1="344.3" x2="282.54" y2="346.3" stroke="#444" stroke-width="0.5"/>
<text x="0" y="0" font-size="6.5" text-anchor="middle" fill="#222" transform="translate(282.54 352.13) scale(1 1.08)">5</text>
<text x="0" y="0" font-size="6.2" text-anchor="middle" fill="#222" transform="translate(293.7 343.31) scale(1 1.08)">0</text>
<line x1="293.7" y1="344.3" x2="293.7" y2="346.3" stroke="#444" stroke-width="0.5"/>
<text x="0" y="0" font-size="6.5" text-anchor="middle" fill="#222" transform="translate(293.7 352.13) scale(1 1.08)">6</text>
<text x="0" y="0" font-size="6.2" text-anchor="middle" fill="#222" transform="translate(304.86 343.31) scale(1 1.08)">0</text>
<line x1="304.86" y1="344.3" x2="304.86" y2="346.3" stroke="#444" stroke-width="0.5"/>
<text x="0" y="0" font-size="6.5" text-anchor="middle" fill="#222" transform="translate(304.86 352.13) scale(1 1.08)">7</text>
<rect x="311.42" y="337.72" width="9.2" height="6.58" fill="#94c1b9" stroke="#222" stroke-width="0.7"/>
<text x="0" y="0" font-size="6.2" text-anchor="middle" fill="#222" transform="translate(316.02 336.73) scale(1 1.08)">3</text>
<line x1="316.02" y1="344.3" x2="316.02" y2="346.3" stroke="#444" stroke-width="0.5"/>
<text x="0" y="0" font-size="6.5" text-anchor="middle" fill="#222" transform="translate(316.02 352.13) scale(1 1.08)">8</text>
<rect x="322.58" y="287.31" width="9.2" height="56.99" fill="#94c1b9" stroke="#222" stroke-width="0.7"/>
<text x="0" y="0" font-size="6.2" text-anchor="middle" fill="#222" transform="translate(327.18 286.32) scale(1 1.08)">26</text>
<line x1="327.18" y1="344.3" x2="327.18" y2="346.3" stroke="#444" stroke-width="0.5"/>
<text x="0" y="0" font-size="6.5" text-anchor="middle" fill="#222" transform="translate(327.18 352.13) scale(1 1.08)">9</text>
<text x="0" y="0" font-size="6.2" text-anchor="middle" fill="#222" transform="translate(338.34 343.31) scale(1 1.08)">0</text>
<line x1="338.34" y1="344.3" x2="338.34" y2="346.3" stroke="#444" stroke-width="0.5"/>
<text x="0" y="0" font-size="6.5" text-anchor="middle" fill="#222" transform="translate(338.34 352.13) scale(1 1.08)">10</text>
<text x="0" y="0" font-size="6.2" text-anchor="middle" fill="#222" transform="translate(349.5 343.31) scale(1 1.08)">0</text>
<line x1="349.5" y1="344.3" x2="349.5" y2="346.3" stroke="#444" stroke-width="0.5"/>
<text x="0" y="0" font-size="6.5" text-anchor="middle" fill="#222" transform="translate(349.5 352.13) scale(1 1.08)">11</text>
<text x="0" y="0" font-size="6.2" text-anchor="middle" fill="#222" transform="translate(360.66 343.31) scale(1 1.08)">0</text>
<line x1="360.66" y1="344.3" x2="360.66" y2="346.3" stroke="#444" stroke-width="0.5"/>
<text x="0" y="0" font-size="6.5" text-anchor="middle" fill="#222" transform="translate(360.66 352.13) scale(1 1.08)">12</text>
<text x="0" y="0" font-size="6.2" text-anchor="middle" fill="#222" transform="translate(371.82 343.31) scale(1 1.08)">0</text>
<line x1="371.82" y1="344.3" x2="371.82" y2="346.3" stroke="#444" stroke-width="0.5"/>
<text x="0" y="0" font-size="6.5" text-anchor="middle" fill="#222" transform="translate(371.82 352.13) scale(1 1.08)">13</text>
<text x="0" y="0" font-size="6.2" text-anchor="middle" fill="#222" transform="translate(382.98 343.31) scale(1 1.08)">0</text>
<line x1="382.98" y1="344.3" x2="382.98" y2="346.3" stroke="#444" stroke-width="0.5"/>
<text x="0" y="0" font-size="6.5" text-anchor="middle" fill="#222" transform="translate(382.98 352.13) scale(1 1.08)">14</text>
<text x="0" y="0" font-size="6.2" text-anchor="middle" fill="#222" transform="translate(394.14 343.31) scale(1 1.08)">0</text>
<line x1="394.14" y1="344.3" x2="394.14" y2="346.3" stroke="#444" stroke-width="0.5"/>
<text x="0" y="0" font-size="6.5" text-anchor="middle" fill="#222" transform="translate(394.14 352.13) scale(1 1.08)">15</text>
<text x="0" y="0" font-size="6.2" text-anchor="middle" fill="#222" transform="translate(405.3 343.31) scale(1 1.08)">0</text>
<line x1="405.3" y1="344.3" x2="405.3" y2="346.3" stroke="#444" stroke-width="0.5"/>
<text x="0" y="0" font-size="6.5" text-anchor="middle" fill="#222" transform="translate(405.3 352.13) scale(1 1.08)">16</text>
<rect x="411.86" y="342.11" width="9.2" height="2.19" fill="#94c1b9" stroke="#222" stroke-width="0.7"/>
<text x="0" y="0" font-size="6.2" text-anchor="middle" fill="#222" transform="translate(416.46 341.12) scale(1 1.08)">1</text>
<line x1="416.46" y1="344.3" x2="416.46" y2="346.3" stroke="#444" stroke-width="0.5"/>
<text x="0" y="0" font-size="6.5" text-anchor="middle" fill="#222" transform="translate(416.46 352.13) scale(1 1.08)">17</text>
<text x="0" y="0" font-size="6.2" text-anchor="middle" fill="#222" transform="translate(427.62 343.31) scale(1 1.08)">0</text>
<line x1="427.62" y1="344.3" x2="427.62" y2="346.3" stroke="#444" stroke-width="0.5"/>
<text x="0" y="0" font-size="6.5" text-anchor="middle" fill="#222" transform="translate(427.62 352.13) scale(1 1.08)">18</text>
<rect x="434.18" y="269.77" width="9.2" height="74.53" fill="#94c1b9" stroke="#222" stroke-width="0.7"/>
<text x="0" y="0" font-size="6.2" text-anchor="middle" fill="#222" transform="translate(438.78 268.78) scale(1 1.08)">34</text>
<line x1="438.78" y1="344.3" x2="438.78" y2="346.3" stroke="#444" stroke-width="0.5"/>
<text x="0" y="0" font-size="6.5" text-anchor="middle" fill="#222" transform="translate(438.78 352.13) scale(1 1.08)">19</text>
<text x="0" y="0" font-size="6.2" text-anchor="middle" fill="#222" transform="translate(449.94 343.31) scale(1 1.08)">0</text>
<line x1="449.94" y1="344.3" x2="449.94" y2="346.3" stroke="#444" stroke-width="0.5"/>
<text x="0" y="0" font-size="6.5" text-anchor="middle" fill="#222" transform="translate(449.94 352.13) scale(1 1.08)">21</text>
<text x="0" y="0" font-size="6.2" text-anchor="middle" fill="#222" transform="translate(461.1 343.31) scale(1 1.08)">0</text>
<line x1="461.1" y1="344.3" x2="461.1" y2="346.3" stroke="#444" stroke-width="0.5"/>
<text x="0" y="0" font-size="6.5" text-anchor="middle" fill="#222" transform="translate(461.1 352.13) scale(1 1.08)">22</text>
<line x1="229.6" y1="234.7" x2="229.6" y2="344.3" stroke="#444" stroke-width="0.7"/>
<line x1="229.6" y1="344.3" x2="469.6" y2="344.3" stroke="#444" stroke-width="0.7"/>
<line x1="227.6" y1="344.3" x2="229.6" y2="344.3" stroke="#444" stroke-width="0.5"/>
<text x="0" y="0" font-size="6.5" text-anchor="end" fill="#222" transform="translate(226.8 346.83) scale(1 1.08)">0</text>
<line x1="227.6" y1="322.38" x2="229.6" y2="322.38" stroke="#444" stroke-width="0.5"/>
<text x="0" y="0" font-size="6.5" text-anchor="end" fill="#222" transform="translate(226.8 324.91) scale(1 1.08)">10</text>
<line x1="227.6" y1="300.46" x2="229.6" y2="300.46" stroke="#444" stroke-width="0.5"/>
<text x="0" y="0" font-size="6.5" text-anchor="end" fill="#222" transform="translate(226.8 302.99) scale(1 1.08)">20</text>
<line x1="227.6" y1="278.54" x2="229.6" y2="278.54" stroke="#444" stroke-width="0.5"/>
<text x="0" y="0" font-size="6.5" text-anchor="end" fill="#222" transform="translate(226.8 281.07) scale(1 1.08)">30</text>
<line x1="227.6" y1="256.62" x2="229.6" y2="256.62" stroke="#444" stroke-width="0.5"/>
<text x="0" y="0" font-size="6.5" text-anchor="end" fill="#222" transform="translate(226.8 259.15) scale(1 1.08)">40</text>
<line x1="227.6" y1="234.7" x2="229.6" y2="234.7" stroke="#444" stroke-width="0.5"/>
<text x="0" y="0" font-size="6.5" text-anchor="end" fill="#222" transform="translate(226.8 237.23) scale(1 1.08)">50</text>
<text x="0" y="0" font-size="7.8" text-anchor="middle" fill="#000" transform="translate(349 361.73) scale(1 1.08)">Chromosome</text>
<text x="0" y="2.6" font-size="7.22" text-anchor="middle" fill="#000" transform="translate(211.4 287) scale(1 1.08) rotate(-90)">Nb. of Interacting SNVs</text>
<text x="0" y="0" font-size="13.5" font-weight="bold" fill="#000" transform="translate(204.3 225) scale(1 1.08)">e</text>
<rect x="513.6" y="255" width="132.13" height="13.4" fill="#e8e0ce" stroke="#333" stroke-width="0.8"/>
<rect x="513.6" y="255" width="17.73" height="13.4" fill="#dd2127" stroke="#333" stroke-width="0.8"/>
<text x="0" y="0" font-size="5.4" text-anchor="start" fill="#333" transform="translate(649.73 263.8) scale(1 1.08)">31 / 231</text>
<line x1="511" y1="261.7" x2="513" y2="261.7" stroke="#555" stroke-width="0.6"/>
<text x="0" y="0" font-size="9" text-anchor="end" fill="#111" transform="translate(510.4 265.2) scale(1 1.08)">ALPI</text>
<rect x="513.6" y="270" width="123.55" height="13.4" fill="#e8e0ce" stroke="#333" stroke-width="0.8"/>
<rect x="513.6" y="270" width="17.73" height="13.4" fill="#dd2127" stroke="#333" stroke-width="0.8"/>
<text x="0" y="0" font-size="5.4" text-anchor="start" fill="#333" transform="translate(641.15 278.8) scale(1 1.08)">31 / 216</text>
<line x1="511" y1="276.7" x2="513" y2="276.7" stroke="#555" stroke-width="0.6"/>
<text x="0" y="0" font-size="9" text-anchor="end" fill="#111" transform="translate(510.4 280.2) scale(1 1.08)">MUC2</text>
<rect x="513.6" y="284.7" width="98.38" height="13.4" fill="#e8e0ce" stroke="#333" stroke-width="0.8"/>
<rect x="513.6" y="284.7" width="22.88" height="13.4" fill="#dd2127" stroke="#333" stroke-width="0.8"/>
<text x="0" y="0" font-size="5.4" text-anchor="start" fill="#333" transform="translate(615.98 293.5) scale(1 1.08)">40 / 172</text>
<line x1="511" y1="291.4" x2="513" y2="291.4" stroke="#555" stroke-width="0.6"/>
<text x="0" y="0" font-size="9" text-anchor="end" fill="#111" transform="translate(510.4 294.9) scale(1 1.08)">FAM3D</text>
<rect x="513.6" y="299.8" width="41.18" height="13.4" fill="#e8e0ce" stroke="#333" stroke-width="0.8"/>
<rect x="513.6" y="299.8" width="5.15" height="13.4" fill="#dd2127" stroke="#333" stroke-width="0.8"/>
<text x="0" y="0" font-size="5.4" text-anchor="start" fill="#333" transform="translate(558.78 308.6) scale(1 1.08)">9 / 72</text>
<line x1="511" y1="306.5" x2="513" y2="306.5" stroke="#555" stroke-width="0.6"/>
<text x="0" y="0" font-size="9" text-anchor="end" fill="#111" transform="translate(510.4 310) scale(1 1.08)">CDH17</text>
<line x1="513.2" y1="253" x2="513.2" y2="313.8" stroke="#555" stroke-width="0.9"/>
<line x1="513.2" y1="313.8" x2="645.8" y2="313.8" stroke="#555" stroke-width="0.9"/>
<line x1="513.6" y1="313.8" x2="513.6" y2="316" stroke="#555" stroke-width="0.6"/>
<text x="0" y="0" font-size="9.4" text-anchor="middle" fill="#222" transform="translate(513.6 325.85) scale(1 1.08)">0</text>
<line x1="542.2" y1="313.8" x2="542.2" y2="316" stroke="#555" stroke-width="0.6"/>
<text x="0" y="0" font-size="9.4" text-anchor="middle" fill="#222" transform="translate(542.2 325.85) scale(1 1.08)">50</text>
<line x1="570.8" y1="313.8" x2="570.8" y2="316" stroke="#555" stroke-width="0.6"/>
<text x="0" y="0" font-size="9.4" text-anchor="middle" fill="#222" transform="translate(570.8 325.85) scale(1 1.08)">100</text>
<line x1="599.4" y1="313.8" x2="599.4" y2="316" stroke="#555" stroke-width="0.6"/>
<text x="0" y="0" font-size="9.4" text-anchor="middle" fill="#222" transform="translate(599.4 325.85) scale(1 1.08)">150</text>
<line x1="628" y1="313.8" x2="628" y2="316" stroke="#555" stroke-width="0.6"/>
<text x="0" y="0" font-size="9.4" text-anchor="middle" fill="#222" transform="translate(628 325.85) scale(1 1.08)">200</text>
<text x="0" y="0" font-size="8.5" text-anchor="middle" fill="#000" transform="translate(580.1 336.75) scale(1 1.08)">Nb. of interactions</text>
<text x="0" y="0" font-size="13.5" font-weight="bold" fill="#000" transform="translate(482.3 225.2) scale(1 1.08)">f</text>
<rect x="33.6" y="386.3" width="137.2" height="140.4" fill="#fff" stroke="none" stroke-width="1"/>
<line x1="33.6" y1="401.35" x2="170.8" y2="401.35" stroke="#f4f4f4" stroke-width="0.5"/>
<line x1="33.6" y1="443.85" x2="170.8" y2="443.85" stroke="#f4f4f4" stroke-width="0.5"/>
<line x1="33.6" y1="486.35" x2="170.8" y2="486.35" stroke="#f4f4f4" stroke-width="0.5"/>
<line x1="33.6" y1="422.6" x2="170.8" y2="422.6" stroke="#ebebeb" stroke-width="0.9"/>
<line x1="33.6" y1="465.1" x2="170.8" y2="465.1" stroke="#ebebeb" stroke-width="0.9"/>
<line x1="33.6" y1="507.6" x2="170.8" y2="507.6" stroke="#ebebeb" stroke-width="0.9"/>
<line x1="59.1" y1="386.3" x2="59.1" y2="526.7" stroke="#ebebeb" stroke-width="0.9"/>
<line x1="101.9" y1="386.3" x2="101.9" y2="526.7" stroke="#ebebeb" stroke-width="0.9"/>
<line x1="144.6" y1="386.3" x2="144.6" y2="526.7" stroke="#ebebeb" stroke-width="0.9"/>
<line x1="47.8" y1="486.4" x2="47.8" y2="494.8" stroke="#f8766d" stroke-width="0.8"/>
<line x1="46.5" y1="486.4" x2="49.1" y2="486.4" stroke="#f8766d" stroke-width="0.8"/>
<line x1="46.5" y1="494.8" x2="49.1" y2="494.8" stroke="#f8766d" stroke-width="0.8"/>
<circle cx="47.8" cy="490.9" r="1.1" fill="#f8766d"/>
<text x="0" y="0" font-size="5.7" text-anchor="middle" fill="#f8766d" transform="translate(47.8 501.72) scale(1 1.08)">206</text>
<line x1="59.1" y1="491.6" x2="59.1" y2="496.4" stroke="#00ba38" stroke-width="0.8"/>
<line x1="57.8" y1="491.6" x2="60.4" y2="491.6" stroke="#00ba38" stroke-width="0.8"/>
<line x1="57.8" y1="496.4" x2="60.4" y2="496.4" stroke="#00ba38" stroke-width="0.8"/>
<circle cx="59.1" cy="493.5" r="1.1" fill="#00ba38"/>
<text x="0" y="0" font-size="5.7" text-anchor="middle" fill="#00ba38" transform="translate(59.1 504.42) scale(1 1.08)">507</text>
<line x1="70.4" y1="494.8" x2="70.4" y2="500.6" stroke="#6690e0" stroke-width="0.8"/>
<line x1="69.1" y1="494.8" x2="71.7" y2="494.8" stroke="#6690e0" stroke-width="0.8"/>
<line x1="69.1" y1="500.6" x2="71.7" y2="500.6" stroke="#6690e0" stroke-width="0.8"/>
<circle cx="70.4" cy="498" r="1.1" fill="#6690e0"/>
<text x="0" y="0" font-size="5.7" text-anchor="middle" fill="#6690e0" transform="translate(70.4 508.02) scale(1 1.08)">355</text>
<line x1="90.6" y1="486.6" x2="90.6" y2="488.8" stroke="#f8766d" stroke-width="0.8"/>
<line x1="89.3" y1="486.6" x2="91.9" y2="486.6" stroke="#f8766d" stroke-width="0.8"/>
<line x1="89.3" y1="488.8" x2="91.9" y2="488.8" stroke="#f8766d" stroke-width="0.8"/>
<circle cx="90.6" cy="487.7" r="1.1" fill="#f8766d"/>
<text x="0" y="0" font-size="5.7" text-anchor="middle" fill="#f8766d" transform="translate(90.6 495.72) scale(1 1.08)">1900</text>
<line x1="101.9" y1="488.9" x2="101.9" y2="491.1" stroke="#00ba38" stroke-width="0.8"/>
<line x1="100.6" y1="488.9" x2="103.2" y2="488.9" stroke="#00ba38" stroke-width="0.8"/>
<line x1="100.6" y1="491.1" x2="103.2" y2="491.1" stroke="#00ba38" stroke-width="0.8"/>
<circle cx="101.9" cy="490" r="1.1" fill="#00ba38"/>
<text x="0" y="0" font-size="5.7" text-anchor="middle" fill="#00ba38" transform="translate(101.9 498.32) scale(1 1.08)">4920</text>
<line x1="113.5" y1="496.9" x2="113.5" y2="499.1" stroke="#6690e0" stroke-width="0.8"/>
<line x1="112.2" y1="496.9" x2="114.8" y2="496.9" stroke="#6690e0" stroke-width="0.8"/>
<line x1="112.2" y1="499.1" x2="114.8" y2="499.1" stroke="#6690e0" stroke-width="0.8"/>
<circle cx="113.5" cy="498" r="1.1" fill="#6690e0"/>
<text x="0" y="0" font-size="5.7" text-anchor="middle" fill="#6690e0" transform="translate(113.5 506.22) scale(1 1.08)">3326</text>
<line x1="133.5" y1="412.8" x2="133.5" y2="415" stroke="#f8766d" stroke-width="0.8"/>
<line x1="132.2" y1="412.8" x2="134.8" y2="412.8" stroke="#f8766d" stroke-width="0.8"/>
<line x1="132.2" y1="415" x2="134.8" y2="415" stroke="#f8766d" stroke-width="0.8"/>
<circle cx="133.5" cy="413.9" r="1.1" fill="#f8766d"/>
<text x="0" y="0" font-size="5.7" text-anchor="middle" fill="#f8766d" transform="translate(133.5 422.12) scale(1 1.08)">3995</text>
<line x1="144.6" y1="427.2" x2="144.6" y2="429.4" stroke="#00ba38" stroke-width="0.8"/>
<line x1="143.3" y1="427.2" x2="145.9" y2="427.2" stroke="#00ba38" stroke-width="0.8"/>
<line x1="143.3" y1="429.4" x2="145.9" y2="429.4" stroke="#00ba38" stroke-width="0.8"/>
<circle cx="144.6" cy="428.3" r="1.1" fill="#00ba38"/>
<text x="0" y="0" font-size="5.7" text-anchor="middle" fill="#00ba38" transform="translate(144.6 436.32) scale(1 1.08)">10793</text>
<line x1="156.3" y1="466.9" x2="156.3" y2="469.1" stroke="#6690e0" stroke-width="0.8"/>
<line x1="155" y1="466.9" x2="157.6" y2="466.9" stroke="#6690e0" stroke-width="0.8"/>
<line x1="155" y1="469.1" x2="157.6" y2="469.1" stroke="#6690e0" stroke-width="0.8"/>
<circle cx="156.3" cy="468" r="1.1" fill="#6690e0"/>
<text x="0" y="0" font-size="5.7" text-anchor="middle" fill="#6690e0" transform="translate(156.3 476.52) scale(1 1.08)">7179</text>
<rect x="33.6" y="386.3" width="137.2" height="140.4" fill="none" stroke="#4d4d4d" stroke-width="0.8"/>
<line x1="31.3" y1="422.6" x2="33.6" y2="422.6" stroke="#333333" stroke-width="0.6"/>
<text x="0" y="0" font-size="6.9" text-anchor="end" fill="#333333" transform="translate(28.3 425.28) scale(1 1.08)">1</text>
<line x1="31.3" y1="465.1" x2="33.6" y2="465.1" stroke="#333333" stroke-width="0.6"/>
<text x="0" y="0" font-size="6.9" text-anchor="end" fill="#333333" transform="translate(28.3 467.78) scale(1 1.08)">0</text>
<line x1="31.3" y1="507.6" x2="33.6" y2="507.6" stroke="#333333" stroke-width="0.6"/>
<text x="0" y="0" font-size="6.9" text-anchor="end" fill="#333333" transform="translate(28.3 510.28) scale(1 1.08)">−1</text>
<line x1="59.1" y1="526.7" x2="59.1" y2="529" stroke="#333333" stroke-width="0.6"/>
<line x1="101.9" y1="526.7" x2="101.9" y2="529" stroke="#333333" stroke-width="0.6"/>
<line x1="144.6" y1="526.7" x2="144.6" y2="529" stroke="#333333" stroke-width="0.6"/>
<text x="0" y="0" font-size="8.4" text-anchor="start" fill="#000" transform="translate(40.4 400.87) scale(1 1.08)">ALPI</text>
<rect x="193.6" y="386.6" width="130.6" height="140.1" fill="#fff" stroke="none" stroke-width="1"/>
<line x1="193.6" y1="404.3" x2="324.2" y2="404.3" stroke="#f4f4f4" stroke-width="0.5"/>
<line x1="193.6" y1="434.3" x2="324.2" y2="434.3" stroke="#f4f4f4" stroke-width="0.5"/>
<line x1="193.6" y1="464.3" x2="324.2" y2="464.3" stroke="#f4f4f4" stroke-width="0.5"/>
<line x1="193.6" y1="494.3" x2="324.2" y2="494.3" stroke="#f4f4f4" stroke-width="0.5"/>
<line x1="193.6" y1="524.3" x2="324.2" y2="524.3" stroke="#f4f4f4" stroke-width="0.5"/>
<line x1="193.6" y1="389.3" x2="324.2" y2="389.3" stroke="#ebebeb" stroke-width="0.9"/>
<line x1="193.6" y1="419.3" x2="324.2" y2="419.3" stroke="#ebebeb" stroke-width="0.9"/>
<line x1="193.6" y1="449.3" x2="324.2" y2="449.3" stroke="#ebebeb" stroke-width="0.9"/>
<line x1="193.6" y1="479.3" x2="324.2" y2="479.3" stroke="#ebebeb" stroke-width="0.9"/>
<line x1="193.6" y1="509.3" x2="324.2" y2="509.3" stroke="#ebebeb" stroke-width="0.9"/>
<line x1="217.6" y1="386.6" x2="217.6" y2="526.7" stroke="#ebebeb" stroke-width="0.9"/>
<line x1="259.1" y1="386.6" x2="259.1" y2="526.7" stroke="#ebebeb" stroke-width="0.9"/>
<line x1="300.1" y1="386.6" x2="300.1" y2="526.7" stroke="#ebebeb" stroke-width="0.9"/>
<line x1="206.8" y1="414.7" x2="206.8" y2="425.2" stroke="#f8766d" stroke-width="0.8"/>
<line x1="205.5" y1="414.7" x2="208.1" y2="414.7" stroke="#f8766d" stroke-width="0.8"/>
<line x1="205.5" y1="425.2" x2="208.1" y2="425.2" stroke="#f8766d" stroke-width="0.8"/>
<circle cx="206.8" cy="419.9" r="1.1" fill="#f8766d"/>
<text x="0" y="0" font-size="5.7" text-anchor="middle" fill="#f8766d" transform="translate(206.8 432.12) scale(1 1.08)">206</text>
<line x1="217.6" y1="419.7" x2="217.6" y2="428.3" stroke="#00ba38" stroke-width="0.8"/>
<line x1="216.3" y1="419.7" x2="218.9" y2="419.7" stroke="#00ba38" stroke-width="0.8"/>
<line x1="216.3" y1="428.3" x2="218.9" y2="428.3" stroke="#00ba38" stroke-width="0.8"/>
<circle cx="217.6" cy="424.4" r="1.1" fill="#00ba38"/>
<text x="0" y="0" font-size="5.7" text-anchor="middle" fill="#00ba38" transform="translate(217.6 435.22) scale(1 1.08)">520</text>
<line x1="228.6" y1="463.3" x2="228.6" y2="476.4" stroke="#6690e0" stroke-width="0.8"/>
<line x1="227.3" y1="463.3" x2="229.9" y2="463.3" stroke="#6690e0" stroke-width="0.8"/>
<line x1="227.3" y1="476.4" x2="229.9" y2="476.4" stroke="#6690e0" stroke-width="0.8"/>
<circle cx="228.6" cy="469.8" r="1.1" fill="#6690e0"/>
<text x="0" y="0" font-size="5.7" text-anchor="middle" fill="#6690e0" transform="translate(228.6 483.12) scale(1 1.08)">369</text>
<line x1="248" y1="417.5" x2="248" y2="419.7" stroke="#f8766d" stroke-width="0.8"/>
<line x1="246.7" y1="417.5" x2="249.3" y2="417.5" stroke="#f8766d" stroke-width="0.8"/>
<line x1="246.7" y1="419.7" x2="249.3" y2="419.7" stroke="#f8766d" stroke-width="0.8"/>
<circle cx="248" cy="418.6" r="1.1" fill="#f8766d"/>
<text x="0" y="0" font-size="5.7" text-anchor="middle" fill="#f8766d" transform="translate(248 427.42) scale(1 1.08)">1951</text>
<line x1="259.1" y1="425.4" x2="259.1" y2="427.6" stroke="#00ba38" stroke-width="0.8"/>
<line x1="257.8" y1="425.4" x2="260.4" y2="425.4" stroke="#00ba38" stroke-width="0.8"/>
<line x1="257.8" y1="427.6" x2="260.4" y2="427.6" stroke="#00ba38" stroke-width="0.8"/>
<circle cx="259.1" cy="426.5" r="1.1" fill="#00ba38"/>
<text x="0" y="0" font-size="5.7" text-anchor="middle" fill="#00ba38" transform="translate(259.1 435.22) scale(1 1.08)">5032</text>
<line x1="269.8" y1="469.9" x2="269.8" y2="475.1" stroke="#6690e0" stroke-width="0.8"/>
<line x1="268.5" y1="469.9" x2="271.1" y2="469.9" stroke="#6690e0" stroke-width="0.8"/>
<line x1="268.5" y1="475.1" x2="271.1" y2="475.1" stroke="#6690e0" stroke-width="0.8"/>
<circle cx="269.8" cy="472.5" r="1.1" fill="#6690e0"/>
<text x="0" y="0" font-size="5.7" text-anchor="middle" fill="#6690e0" transform="translate(269.8 481.22) scale(1 1.08)">3374</text>
<line x1="289" y1="480" x2="289" y2="482.2" stroke="#f8766d" stroke-width="0.8"/>
<line x1="287.7" y1="480" x2="290.3" y2="480" stroke="#f8766d" stroke-width="0.8"/>
<line x1="287.7" y1="482.2" x2="290.3" y2="482.2" stroke="#f8766d" stroke-width="0.8"/>
<circle cx="289" cy="481.1" r="1.1" fill="#f8766d"/>
<text x="0" y="0" font-size="5.7" text-anchor="middle" fill="#f8766d" transform="translate(289 489.12) scale(1 1.08)">4108</text>
<line x1="300.1" y1="483.2" x2="300.1" y2="485.4" stroke="#00ba38" stroke-width="0.8"/>
<line x1="298.8" y1="483.2" x2="301.4" y2="483.2" stroke="#00ba38" stroke-width="0.8"/>
<line x1="298.8" y1="485.4" x2="301.4" y2="485.4" stroke="#00ba38" stroke-width="0.8"/>
<circle cx="300.1" cy="484.3" r="1.1" fill="#00ba38"/>
<text x="0" y="0" font-size="5.7" text-anchor="middle" fill="#00ba38" transform="translate(300.1 493.82) scale(1 1.08)">11068</text>
<line x1="311.4" y1="496.3" x2="311.4" y2="498.5" stroke="#6690e0" stroke-width="0.8"/>
<line x1="310.1" y1="496.3" x2="312.7" y2="496.3" stroke="#6690e0" stroke-width="0.8"/>
<line x1="310.1" y1="498.5" x2="312.7" y2="498.5" stroke="#6690e0" stroke-width="0.8"/>
<circle cx="311.4" cy="497.4" r="1.1" fill="#6690e0"/>
<text x="0" y="0" font-size="5.7" text-anchor="middle" fill="#6690e0" transform="translate(311.4 504.42) scale(1 1.08)">7393</text>
<rect x="193.6" y="386.6" width="130.6" height="140.1" fill="none" stroke="#4d4d4d" stroke-width="0.8"/>
<line x1="191.3" y1="389.3" x2="193.6" y2="389.3" stroke="#333333" stroke-width="0.6"/>
<text x="0" y="0" font-size="6.9" text-anchor="end" fill="#333333" transform="translate(189.6 391.98) scale(1 1.08)">1.5</text>
<line x1="191.3" y1="419.3" x2="193.6" y2="419.3" stroke="#333333" stroke-width="0.6"/>
<text x="0" y="0" font-size="6.9" text-anchor="end" fill="#333333" transform="translate(189.6 421.98) scale(1 1.08)">1.0</text>
<line x1="191.3" y1="449.3" x2="193.6" y2="449.3" stroke="#333333" stroke-width="0.6"/>
<text x="0" y="0" font-size="6.9" text-anchor="end" fill="#333333" transform="translate(189.6 451.98) scale(1 1.08)">0.5</text>
<line x1="191.3" y1="479.3" x2="193.6" y2="479.3" stroke="#333333" stroke-width="0.6"/>
<text x="0" y="0" font-size="6.9" text-anchor="end" fill="#333333" transform="translate(189.6 481.98) scale(1 1.08)">0.0</text>
<line x1="191.3" y1="509.3" x2="193.6" y2="509.3" stroke="#333333" stroke-width="0.6"/>
<text x="0" y="0" font-size="6.9" text-anchor="end" fill="#333333" transform="translate(189.6 511.98) scale(1 1.08)">−0.5</text>
<line x1="217.6" y1="526.7" x2="217.6" y2="529" stroke="#333333" stroke-width="0.6"/>
<line x1="259.1" y1="526.7" x2="259.1" y2="529" stroke="#333333" stroke-width="0.6"/>
<line x1="300.1" y1="526.7" x2="300.1" y2="529" stroke="#333333" stroke-width="0.6"/>
<text x="0" y="0" font-size="8.4" text-anchor="start" fill="#000" transform="translate(203.3 400.87) scale(1 1.08)">FAM3D</text>
<rect x="348.4" y="386.6" width="131.9" height="140.1" fill="#fff" stroke="none" stroke-width="1"/>
<line x1="348.4" y1="413.45" x2="480.3" y2="413.45" stroke="#f4f4f4" stroke-width="0.5"/>
<line x1="348.4" y1="444.55" x2="480.3" y2="444.55" stroke="#f4f4f4" stroke-width="0.5"/>
<line x1="348.4" y1="475.65" x2="480.3" y2="475.65" stroke="#f4f4f4" stroke-width="0.5"/>
<line x1="348.4" y1="506.75" x2="480.3" y2="506.75" stroke="#f4f4f4" stroke-width="0.5"/>
<line x1="348.4" y1="397.9" x2="480.3" y2="397.9" stroke="#ebebeb" stroke-width="0.9"/>
<line x1="348.4" y1="429" x2="480.3" y2="429" stroke="#ebebeb" stroke-width="0.9"/>
<line x1="348.4" y1="460.1" x2="480.3" y2="460.1" stroke="#ebebeb" stroke-width="0.9"/>
<line x1="348.4" y1="491.2" x2="480.3" y2="491.2" stroke="#ebebeb" stroke-width="0.9"/>
<line x1="348.4" y1="522.3" x2="480.3" y2="522.3" stroke="#ebebeb" stroke-width="0.9"/>
<line x1="373.4" y1="386.6" x2="373.4" y2="526.7" stroke="#ebebeb" stroke-width="0.9"/>
<line x1="414.1" y1="386.6" x2="414.1" y2="526.7" stroke="#ebebeb" stroke-width="0.9"/>
<line x1="455.3" y1="386.6" x2="455.3" y2="526.7" stroke="#ebebeb" stroke-width="0.9"/>
<line x1="362.3" y1="425.7" x2="362.3" y2="437.8" stroke="#f8766d" stroke-width="0.8"/>
<line x1="361" y1="425.7" x2="363.6" y2="425.7" stroke="#f8766d" stroke-width="0.8"/>
<line x1="361" y1="437.8" x2="363.6" y2="437.8" stroke="#f8766d" stroke-width="0.8"/>
<circle cx="362.3" cy="431.7" r="1.1" fill="#f8766d"/>
<text x="0" y="0" font-size="5.7" text-anchor="middle" fill="#f8766d" transform="translate(362.3 443.72) scale(1 1.08)">208</text>
<line x1="373.4" y1="422.5" x2="373.4" y2="429.6" stroke="#00ba38" stroke-width="0.8"/>
<line x1="372.1" y1="422.5" x2="374.7" y2="422.5" stroke="#00ba38" stroke-width="0.8"/>
<line x1="372.1" y1="429.6" x2="374.7" y2="429.6" stroke="#00ba38" stroke-width="0.8"/>
<circle cx="373.4" cy="426" r="1.1" fill="#00ba38"/>
<text x="0" y="0" font-size="5.7" text-anchor="middle" fill="#00ba38" transform="translate(373.4 437.12) scale(1 1.08)">523</text>
<line x1="384.4" y1="415.2" x2="384.4" y2="425.2" stroke="#6690e0" stroke-width="0.8"/>
<line x1="383.1" y1="415.2" x2="385.7" y2="415.2" stroke="#6690e0" stroke-width="0.8"/>
<line x1="383.1" y1="425.2" x2="385.7" y2="425.2" stroke="#6690e0" stroke-width="0.8"/>
<circle cx="384.4" cy="419.9" r="1.1" fill="#6690e0"/>
<text x="0" y="0" font-size="5.7" text-anchor="middle" fill="#6690e0" transform="translate(384.4 432.12) scale(1 1.08)">366</text>
<line x1="403.6" y1="435.3" x2="403.6" y2="440.3" stroke="#f8766d" stroke-width="0.8"/>
<line x1="402.3" y1="435.3" x2="404.9" y2="435.3" stroke="#f8766d" stroke-width="0.8"/>
<line x1="402.3" y1="440.3" x2="404.9" y2="440.3" stroke="#f8766d" stroke-width="0.8"/>
<circle cx="403.6" cy="437.8" r="1.1" fill="#f8766d"/>
<text x="0" y="0" font-size="5.7" text-anchor="middle" fill="#f8766d" transform="translate(403.6 446.62) scale(1 1.08)">1957</text>
<line x1="414.1" y1="437.2" x2="414.1" y2="439.4" stroke="#00ba38" stroke-width="0.8"/>
<line x1="412.8" y1="437.2" x2="415.4" y2="437.2" stroke="#00ba38" stroke-width="0.8"/>
<line x1="412.8" y1="439.4" x2="415.4" y2="439.4" stroke="#00ba38" stroke-width="0.8"/>
<circle cx="414.1" cy="438.3" r="1.1" fill="#00ba38"/>
<text x="0" y="0" font-size="5.7" text-anchor="middle" fill="#00ba38" transform="translate(414.1 449.22) scale(1 1.08)">5062</text>
<line x1="425.4" y1="420.3" x2="425.4" y2="424.7" stroke="#6690e0" stroke-width="0.8"/>
<line x1="424.1" y1="420.3" x2="426.7" y2="420.3" stroke="#6690e0" stroke-width="0.8"/>
<line x1="424.1" y1="424.7" x2="426.7" y2="424.7" stroke="#6690e0" stroke-width="0.8"/>
<circle cx="425.4" cy="422.5" r="1.1" fill="#6690e0"/>
<text x="0" y="0" font-size="5.7" text-anchor="middle" fill="#6690e0" transform="translate(425.4 430.82) scale(1 1.08)">3384</text>
<line x1="444.3" y1="495" x2="444.3" y2="497.2" stroke="#f8766d" stroke-width="0.8"/>
<line x1="443" y1="495" x2="445.6" y2="495" stroke="#f8766d" stroke-width="0.8"/>
<line x1="443" y1="497.2" x2="445.6" y2="497.2" stroke="#f8766d" stroke-width="0.8"/>
<circle cx="444.3" cy="496.1" r="1.1" fill="#f8766d"/>
<text x="0" y="0" font-size="5.7" text-anchor="middle" fill="#f8766d" transform="translate(444.3 504.92) scale(1 1.08)">4120</text>
<line x1="455.3" y1="482.7" x2="455.3" y2="484.9" stroke="#00ba38" stroke-width="0.8"/>
<line x1="454" y1="482.7" x2="456.6" y2="482.7" stroke="#00ba38" stroke-width="0.8"/>
<line x1="454" y1="484.9" x2="456.6" y2="484.9" stroke="#00ba38" stroke-width="0.8"/>
<circle cx="455.3" cy="483.8" r="1.1" fill="#00ba38"/>
<text x="0" y="0" font-size="5.7" text-anchor="middle" fill="#00ba38" transform="translate(455.3 492.32) scale(1 1.08)">11136</text>
<line x1="466.1" y1="442.5" x2="466.1" y2="444.7" stroke="#6690e0" stroke-width="0.8"/>
<line x1="464.8" y1="442.5" x2="467.4" y2="442.5" stroke="#6690e0" stroke-width="0.8"/>
<line x1="464.8" y1="444.7" x2="467.4" y2="444.7" stroke="#6690e0" stroke-width="0.8"/>
<circle cx="466.1" cy="443.6" r="1.1" fill="#6690e0"/>
<text x="0" y="0" font-size="5.7" text-anchor="middle" fill="#6690e0" transform="translate(466.1 451.52) scale(1 1.08)">7416</text>
<rect x="348.4" y="386.6" width="131.9" height="140.1" fill="none" stroke="#4d4d4d" stroke-width="0.8"/>
<line x1="346.1" y1="397.9" x2="348.4" y2="397.9" stroke="#333333" stroke-width="0.6"/>
<text x="0" y="0" font-size="6.9" text-anchor="end" fill="#333333" transform="translate(344.5 400.58) scale(1 1.08)">1.0</text>
<line x1="346.1" y1="429" x2="348.4" y2="429" stroke="#333333" stroke-width="0.6"/>
<text x="0" y="0" font-size="6.9" text-anchor="end" fill="#333333" transform="translate(344.5 431.68) scale(1 1.08)">0.5</text>
<line x1="346.1" y1="460.1" x2="348.4" y2="460.1" stroke="#333333" stroke-width="0.6"/>
<text x="0" y="0" font-size="6.9" text-anchor="end" fill="#333333" transform="translate(344.5 462.78) scale(1 1.08)">0.0</text>
<line x1="346.1" y1="491.2" x2="348.4" y2="491.2" stroke="#333333" stroke-width="0.6"/>
<text x="0" y="0" font-size="6.9" text-anchor="end" fill="#333333" transform="translate(344.5 493.88) scale(1 1.08)">−0.5</text>
<line x1="346.1" y1="522.3" x2="348.4" y2="522.3" stroke="#333333" stroke-width="0.6"/>
<text x="0" y="0" font-size="6.9" text-anchor="end" fill="#333333" transform="translate(344.5 524.98) scale(1 1.08)">−1.0</text>
<line x1="373.4" y1="526.7" x2="373.4" y2="529" stroke="#333333" stroke-width="0.6"/>
<line x1="414.1" y1="526.7" x2="414.1" y2="529" stroke="#333333" stroke-width="0.6"/>
<line x1="455.3" y1="526.7" x2="455.3" y2="529" stroke="#333333" stroke-width="0.6"/>
<text x="0" y="0" font-size="8.4" text-anchor="start" fill="#000" transform="translate(359 400.87) scale(1 1.08)">MUC2</text>
<rect x="502.4" y="386.5" width="131.7" height="140.2" fill="#fff" stroke="none" stroke-width="1"/>
<line x1="502.4" y1="404.42" x2="634.1" y2="404.42" stroke="#f4f4f4" stroke-width="0.5"/>
<line x1="502.4" y1="440.34" x2="634.1" y2="440.34" stroke="#f4f4f4" stroke-width="0.5"/>
<line x1="502.4" y1="476.26" x2="634.1" y2="476.26" stroke="#f4f4f4" stroke-width="0.5"/>
<line x1="502.4" y1="512.18" x2="634.1" y2="512.18" stroke="#f4f4f4" stroke-width="0.5"/>
<line x1="502.4" y1="422.38" x2="634.1" y2="422.38" stroke="#ebebeb" stroke-width="0.9"/>
<line x1="502.4" y1="458.3" x2="634.1" y2="458.3" stroke="#ebebeb" stroke-width="0.9"/>
<line x1="502.4" y1="494.22" x2="634.1" y2="494.22" stroke="#ebebeb" stroke-width="0.9"/>
<line x1="527.3" y1="386.5" x2="527.3" y2="526.7" stroke="#ebebeb" stroke-width="0.9"/>
<line x1="568.3" y1="386.5" x2="568.3" y2="526.7" stroke="#ebebeb" stroke-width="0.9"/>
<line x1="609.3" y1="386.5" x2="609.3" y2="526.7" stroke="#ebebeb" stroke-width="0.9"/>
<line x1="516.5" y1="479.2" x2="516.5" y2="493.6" stroke="#f8766d" stroke-width="0.8"/>
<line x1="515.2" y1="479.2" x2="517.8" y2="479.2" stroke="#f8766d" stroke-width="0.8"/>
<line x1="515.2" y1="493.6" x2="517.8" y2="493.6" stroke="#f8766d" stroke-width="0.8"/>
<circle cx="516.5" cy="486.7" r="1.1" fill="#f8766d"/>
<text x="0" y="0" font-size="5.7" text-anchor="middle" fill="#f8766d" transform="translate(516.5 501.52) scale(1 1.08)">210</text>
<line x1="527.3" y1="475.4" x2="527.3" y2="485.2" stroke="#00ba38" stroke-width="0.8"/>
<line x1="526" y1="475.4" x2="528.6" y2="475.4" stroke="#00ba38" stroke-width="0.8"/>
<line x1="526" y1="485.2" x2="528.6" y2="485.2" stroke="#00ba38" stroke-width="0.8"/>
<circle cx="527.3" cy="480.1" r="1.1" fill="#00ba38"/>
<text x="0" y="0" font-size="5.7" text-anchor="middle" fill="#00ba38" transform="translate(527.3 491.92) scale(1 1.08)">522</text>
<line x1="538.4" y1="478.4" x2="538.4" y2="489.7" stroke="#6690e0" stroke-width="0.8"/>
<line x1="537.1" y1="478.4" x2="539.7" y2="478.4" stroke="#6690e0" stroke-width="0.8"/>
<line x1="537.1" y1="489.7" x2="539.7" y2="489.7" stroke="#6690e0" stroke-width="0.8"/>
<circle cx="538.4" cy="483.7" r="1.1" fill="#6690e0"/>
<text x="0" y="0" font-size="5.7" text-anchor="middle" fill="#6690e0" transform="translate(538.4 497.02) scale(1 1.08)">363</text>
<line x1="557.2" y1="475.8" x2="557.2" y2="480.8" stroke="#f8766d" stroke-width="0.8"/>
<line x1="555.9" y1="475.8" x2="558.5" y2="475.8" stroke="#f8766d" stroke-width="0.8"/>
<line x1="555.9" y1="480.8" x2="558.5" y2="480.8" stroke="#f8766d" stroke-width="0.8"/>
<circle cx="557.2" cy="478.3" r="1.1" fill="#f8766d"/>
<text x="0" y="0" font-size="5.7" text-anchor="middle" fill="#f8766d" transform="translate(557.2 487.42) scale(1 1.08)">1940</text>
<line x1="568.3" y1="478.4" x2="568.3" y2="480.6" stroke="#00ba38" stroke-width="0.8"/>
<line x1="567" y1="478.4" x2="569.6" y2="478.4" stroke="#00ba38" stroke-width="0.8"/>
<line x1="567" y1="480.6" x2="569.6" y2="480.6" stroke="#00ba38" stroke-width="0.8"/>
<circle cx="568.3" cy="479.5" r="1.1" fill="#00ba38"/>
<text x="0" y="0" font-size="5.7" text-anchor="middle" fill="#00ba38" transform="translate(568.3 491.92) scale(1 1.08)">5020</text>
<line x1="579.4" y1="481.8" x2="579.4" y2="486.8" stroke="#6690e0" stroke-width="0.8"/>
<line x1="578.1" y1="481.8" x2="580.7" y2="481.8" stroke="#6690e0" stroke-width="0.8"/>
<line x1="578.1" y1="486.8" x2="580.7" y2="486.8" stroke="#6690e0" stroke-width="0.8"/>
<circle cx="579.4" cy="484.3" r="1.1" fill="#6690e0"/>
<text x="0" y="0" font-size="5.7" text-anchor="middle" fill="#6690e0" transform="translate(579.4 497.02) scale(1 1.08)">3376</text>
<line x1="598.5" y1="420.4" x2="598.5" y2="422.6" stroke="#f8766d" stroke-width="0.8"/>
<line x1="597.2" y1="420.4" x2="599.8" y2="420.4" stroke="#f8766d" stroke-width="0.8"/>
<line x1="597.2" y1="422.6" x2="599.8" y2="422.6" stroke="#f8766d" stroke-width="0.8"/>
<circle cx="598.5" cy="421.5" r="1.1" fill="#f8766d"/>
<text x="0" y="0" font-size="5.7" text-anchor="middle" fill="#f8766d" transform="translate(598.5 430.02) scale(1 1.08)">4096</text>
<line x1="609.3" y1="428.8" x2="609.3" y2="431" stroke="#00ba38" stroke-width="0.8"/>
<line x1="608" y1="428.8" x2="610.6" y2="428.8" stroke="#00ba38" stroke-width="0.8"/>
<line x1="608" y1="431" x2="610.6" y2="431" stroke="#00ba38" stroke-width="0.8"/>
<circle cx="609.3" cy="429.9" r="1.1" fill="#00ba38"/>
<text x="0" y="0" font-size="5.7" text-anchor="middle" fill="#00ba38" transform="translate(609.3 438.62) scale(1 1.08)">11034</text>
<line x1="620.7" y1="462.3" x2="620.7" y2="464.5" stroke="#6690e0" stroke-width="0.8"/>
<line x1="619.4" y1="462.3" x2="622" y2="462.3" stroke="#6690e0" stroke-width="0.8"/>
<line x1="619.4" y1="464.5" x2="622" y2="464.5" stroke="#6690e0" stroke-width="0.8"/>
<circle cx="620.7" cy="463.4" r="1.1" fill="#6690e0"/>
<text x="0" y="0" font-size="5.7" text-anchor="middle" fill="#6690e0" transform="translate(620.7 471.92) scale(1 1.08)">7363</text>
<rect x="502.4" y="386.5" width="131.7" height="140.2" fill="none" stroke="#4d4d4d" stroke-width="0.8"/>
<line x1="500.1" y1="422.38" x2="502.4" y2="422.38" stroke="#333333" stroke-width="0.6"/>
<text x="0" y="0" font-size="6.9" text-anchor="end" fill="#333333" transform="translate(498.6 425.06) scale(1 1.08)">0.4</text>
<line x1="500.1" y1="458.3" x2="502.4" y2="458.3" stroke="#333333" stroke-width="0.6"/>
<text x="0" y="0" font-size="6.9" text-anchor="end" fill="#333333" transform="translate(498.6 460.98) scale(1 1.08)">0.0</text>
<line x1="500.1" y1="494.22" x2="502.4" y2="494.22" stroke="#333333" stroke-width="0.6"/>
<text x="0" y="0" font-size="6.9" text-anchor="end" fill="#333333" transform="translate(498.6 496.9) scale(1 1.08)">−0.4</text>
<line x1="527.3" y1="526.7" x2="527.3" y2="529" stroke="#333333" stroke-width="0.6"/>
<line x1="568.3" y1="526.7" x2="568.3" y2="529" stroke="#333333" stroke-width="0.6"/>
<line x1="609.3" y1="526.7" x2="609.3" y2="529" stroke="#333333" stroke-width="0.6"/>
<text x="0" y="0" font-size="8.4" text-anchor="start" fill="#000" transform="translate(510.7 400.87) scale(1 1.08)">CDH17</text>
<text x="0" y="0" font-size="6.7" text-anchor="middle" fill="#333333" transform="translate(59.1 536.1) scale(1 1.08)">AA</text>
<text x="0" y="0" font-size="6.7" text-anchor="middle" fill="#333333" transform="translate(101.9 536.1) scale(1 1.08)">GA</text>
<text x="0" y="0" font-size="6.7" text-anchor="middle" fill="#333333" transform="translate(144.6 536.1) scale(1 1.08)">GG</text>
<text x="0" y="0" font-size="8.6" text-anchor="middle" fill="#000" transform="translate(102.2 546.44) scale(1 1.08)">rs507666 (ABO)</text>
<text x="0" y="0" font-size="6.7" text-anchor="middle" fill="#333333" transform="translate(217.6 536.1) scale(1 1.08)">AA</text>
<text x="0" y="0" font-size="6.7" text-anchor="middle" fill="#333333" transform="translate(259.1 536.1) scale(1 1.08)">GA</text>
<text x="0" y="0" font-size="6.7" text-anchor="middle" fill="#333333" transform="translate(300.1 536.1) scale(1 1.08)">GG</text>
<text x="0" y="0" font-size="8.6" text-anchor="middle" fill="#000" transform="translate(258.9 546.44) scale(1 1.08)">rs507666 (ABO)</text>
<text x="0" y="0" font-size="6.7" text-anchor="middle" fill="#333333" transform="translate(373.4 536.1) scale(1 1.08)">AA</text>
<text x="0" y="0" font-size="6.7" text-anchor="middle" fill="#333333" transform="translate(414.1 536.1) scale(1 1.08)">GA</text>
<text x="0" y="0" font-size="6.7" text-anchor="middle" fill="#333333" transform="translate(455.3 536.1) scale(1 1.08)">GG</text>
<text x="0" y="0" font-size="8.6" text-anchor="middle" fill="#000" transform="translate(414.4 546.44) scale(1 1.08)">rs507666 (ABO)</text>
<text x="0" y="0" font-size="6.7" text-anchor="middle" fill="#333333" transform="translate(527.3 536.1) scale(1 1.08)">AA</text>
<text x="0" y="0" font-size="6.7" text-anchor="middle" fill="#333333" transform="translate(568.3 536.1) scale(1 1.08)">GA</text>
<text x="0" y="0" font-size="6.7" text-anchor="middle" fill="#333333" transform="translate(609.3 536.1) scale(1 1.08)">GG</text>
<text x="0" y="0" font-size="8.6" text-anchor="middle" fill="#000" transform="translate(568.3 546.44) scale(1 1.08)">rs507666 (ABO)</text>
<text x="0" y="2.87" font-size="7.96" text-anchor="middle" fill="#000" transform="translate(13.3 455.7) scale(1 1.08) rotate(-90)">Protein level (NPX)</text>
<text x="0" y="0" font-size="8.2" text-anchor="start" fill="#000" transform="translate(643.1 438.39) scale(1 1.08)">rs2307019</text>
<text x="0" y="0" font-size="5.6" text-anchor="start" fill="#000" transform="translate(643 445.48) scale(1 1.08)">(IZUMO1/FUT2)</text>
<line x1="644.2" y1="455.9" x2="655" y2="455.9" stroke="#f8766d" stroke-width="0.8"/>
<circle cx="649.6" cy="455.9" r="1.1" fill="#f8766d"/>
<text x="0" y="0" font-size="7" text-anchor="start" fill="#000" transform="translate(660.5 458.62) scale(1 1.08)">AA</text>
<line x1="644.2" y1="469.4" x2="655" y2="469.4" stroke="#00ba38" stroke-width="0.8"/>
<circle cx="649.6" cy="469.4" r="1.1" fill="#00ba38"/>
<text x="0" y="0" font-size="7" text-anchor="start" fill="#000" transform="translate(660.5 472.12) scale(1 1.08)">GA</text>
<line x1="644.2" y1="482.8" x2="655" y2="482.8" stroke="#6690e0" stroke-width="0.8"/>
<circle cx="649.6" cy="482.8" r="1.1" fill="#6690e0"/>
<text x="0" y="0" font-size="7" text-anchor="start" fill="#000" transform="translate(660.5 485.52) scale(1 1.08)">GG</text>
<text x="0" y="0" font-size="13.5" font-weight="bold" fill="#000" transform="translate(0 387) scale(1 1.08)">g</text>
<rect x="54.3" y="612.51" width="12.4" height="93.89" fill="#d4d4d4" stroke="#222" stroke-width="0.8"/>
<rect x="67.3" y="607.93" width="12.4" height="98.47" fill="#62ba76" stroke="#222" stroke-width="0.8"/>
<line x1="60.5" y1="606.6" x2="60.5" y2="619.3" stroke="#222" stroke-width="0.8"/>
<line x1="58.7" y1="606.6" x2="62.3" y2="606.6" stroke="#222" stroke-width="0.8"/>
<line x1="58.7" y1="619.3" x2="62.3" y2="619.3" stroke="#222" stroke-width="0.8"/>
<line x1="73.5" y1="601.8" x2="73.5" y2="615.1" stroke="#222" stroke-width="0.8"/>
<line x1="71.7" y1="601.8" x2="75.3" y2="601.8" stroke="#222" stroke-width="0.8"/>
<line x1="71.7" y1="615.1" x2="75.3" y2="615.1" stroke="#222" stroke-width="0.8"/>
<rect x="82.1" y="604.5" width="12.4" height="101.9" fill="#d4d4d4" stroke="#222" stroke-width="0.8"/>
<rect x="95.1" y="599.23" width="12.4" height="107.17" fill="#62ba76" stroke="#222" stroke-width="0.8"/>
<line x1="88.3" y1="597.4" x2="88.3" y2="611.1" stroke="#222" stroke-width="0.8"/>
<line x1="86.5" y1="597.4" x2="90.1" y2="597.4" stroke="#222" stroke-width="0.8"/>
<line x1="86.5" y1="611.1" x2="90.1" y2="611.1" stroke="#222" stroke-width="0.8"/>
<line x1="101.3" y1="591.5" x2="101.3" y2="605.8" stroke="#222" stroke-width="0.8"/>
<line x1="99.5" y1="591.5" x2="103.1" y2="591.5" stroke="#222" stroke-width="0.8"/>
<line x1="99.5" y1="605.8" x2="103.1" y2="605.8" stroke="#222" stroke-width="0.8"/>
<rect x="109.8" y="620.07" width="12.4" height="86.33" fill="#d4d4d4" stroke="#222" stroke-width="0.8"/>
<rect x="122.8" y="616.63" width="12.4" height="89.77" fill="#62ba76" stroke="#222" stroke-width="0.8"/>
<line x1="116" y1="612.4" x2="116" y2="627" stroke="#222" stroke-width="0.8"/>
<line x1="114.2" y1="612.4" x2="117.8" y2="612.4" stroke="#222" stroke-width="0.8"/>
<line x1="114.2" y1="627" x2="117.8" y2="627" stroke="#222" stroke-width="0.8"/>
<line x1="129" y1="609.3" x2="129" y2="623.3" stroke="#222" stroke-width="0.8"/>
<line x1="127.2" y1="609.3" x2="130.8" y2="609.3" stroke="#222" stroke-width="0.8"/>
<line x1="127.2" y1="623.3" x2="130.8" y2="623.3" stroke="#222" stroke-width="0.8"/>
<rect x="137.6" y="641.59" width="12.4" height="64.81" fill="#d4d4d4" stroke="#222" stroke-width="0.8"/>
<rect x="150.6" y="639.99" width="12.4" height="66.41" fill="#62ba76" stroke="#222" stroke-width="0.8"/>
<line x1="143.8" y1="633.6" x2="143.8" y2="649" stroke="#222" stroke-width="0.8"/>
<line x1="142" y1="633.6" x2="145.6" y2="633.6" stroke="#222" stroke-width="0.8"/>
<line x1="142" y1="649" x2="145.6" y2="649" stroke="#222" stroke-width="0.8"/>
<line x1="156.8" y1="631.8" x2="156.8" y2="649" stroke="#222" stroke-width="0.8"/>
<line x1="155" y1="631.8" x2="158.6" y2="631.8" stroke="#222" stroke-width="0.8"/>
<line x1="155" y1="649" x2="158.6" y2="649" stroke="#222" stroke-width="0.8"/>
<line x1="50.3" y1="590.5" x2="50.3" y2="706.4" stroke="#444" stroke-width="0.8"/>
<line x1="50.3" y1="706.4" x2="166.8" y2="706.4" stroke="#444" stroke-width="0.8"/>
<line x1="48.3" y1="706.4" x2="50.3" y2="706.4" stroke="#444" stroke-width="0.6"/>
<text x="0" y="0" font-size="9.4" text-anchor="end" fill="#222" transform="translate(47 710.05) scale(1 1.08)">0.0</text>
<line x1="48.3" y1="683.5" x2="50.3" y2="683.5" stroke="#444" stroke-width="0.6"/>
<text x="0" y="0" font-size="9.4" text-anchor="end" fill="#222" transform="translate(47 687.15) scale(1 1.08)">0.1</text>
<line x1="48.3" y1="660.6" x2="50.3" y2="660.6" stroke="#444" stroke-width="0.6"/>
<text x="0" y="0" font-size="9.4" text-anchor="end" fill="#222" transform="translate(47 664.25) scale(1 1.08)">0.2</text>
<line x1="48.3" y1="637.7" x2="50.3" y2="637.7" stroke="#444" stroke-width="0.6"/>
<text x="0" y="0" font-size="9.4" text-anchor="end" fill="#222" transform="translate(47 641.35) scale(1 1.08)">0.3</text>
<line x1="48.3" y1="614.8" x2="50.3" y2="614.8" stroke="#444" stroke-width="0.6"/>
<text x="0" y="0" font-size="9.4" text-anchor="end" fill="#222" transform="translate(47 618.45) scale(1 1.08)">0.4</text>
<line x1="48.3" y1="591.9" x2="50.3" y2="591.9" stroke="#444" stroke-width="0.6"/>
<text x="0" y="0" font-size="9.4" text-anchor="end" fill="#222" transform="translate(47 595.55) scale(1 1.08)">0.5</text>
<line x1="67" y1="706.4" x2="67" y2="708.4" stroke="#444" stroke-width="0.6"/>
<text x="0" y="0" font-size="7.2" text-anchor="middle" fill="#222" transform="translate(67 717.1) scale(1 1.08)">ALPI</text>
<line x1="94.8" y1="706.4" x2="94.8" y2="708.4" stroke="#444" stroke-width="0.6"/>
<text x="0" y="0" font-size="7.2" text-anchor="middle" fill="#222" transform="translate(94.8 717.1) scale(1 1.08)">FAM3D</text>
<line x1="122.5" y1="706.4" x2="122.5" y2="708.4" stroke="#444" stroke-width="0.6"/>
<text x="0" y="0" font-size="7.2" text-anchor="middle" fill="#222" transform="translate(122.5 717.1) scale(1 1.08)">MUC2</text>
<line x1="150.3" y1="706.4" x2="150.3" y2="708.4" stroke="#444" stroke-width="0.6"/>
<text x="0" y="0" font-size="7.2" text-anchor="middle" fill="#222" transform="translate(150.3 717.1) scale(1 1.08)">CDH17</text>
<text x="0" y="2.8" font-size="7.78" text-anchor="middle" fill="#000" transform="translate(24.4 646.7) scale(1 1.08) rotate(-90)">mean R² (1000 bootstraps)</text>
<text x="0" y="0" font-size="7.3" text-anchor="start" fill="#000" transform="translate(49 727.57) scale(1 1.08)">Interaction term added</text>
<rect x="48.8" y="732.6" width="10.4" height="10.4" fill="#d4d4d4" stroke="#222" stroke-width="0.8"/>
<rect x="48.8" y="744.9" width="10.4" height="10.4" fill="#62ba76" stroke="#222" stroke-width="0.8"/>
<text x="0" y="0" font-size="5.8" text-anchor="start" fill="#000" transform="translate(64 740.26) scale(1 1.08)">None</text>
<text x="0" y="0" font-size="5.85" text-anchor="start" fill="#000" transform="translate(64 751.97) scale(1 1.08)">rs507666-rs2307019</text>
<text x="0" y="0" font-size="13.5" font-weight="bold" fill="#000" transform="translate(1 581.8) scale(1 1.08)">h</text>
<rect x="227.2" y="586.1" width="136.4" height="140.3" fill="#fff" stroke="none" stroke-width="1"/>
<line x1="227.2" y1="597.15" x2="363.6" y2="597.15" stroke="#f4f4f4" stroke-width="0.5"/>
<line x1="227.2" y1="631.65" x2="363.6" y2="631.65" stroke="#f4f4f4" stroke-width="0.5"/>
<line x1="227.2" y1="666.15" x2="363.6" y2="666.15" stroke="#f4f4f4" stroke-width="0.5"/>
<line x1="227.2" y1="700.65" x2="363.6" y2="700.65" stroke="#f4f4f4" stroke-width="0.5"/>
<line x1="227.2" y1="614.4" x2="363.6" y2="614.4" stroke="#ebebeb" stroke-width="0.9"/>
<line x1="227.2" y1="648.9" x2="363.6" y2="648.9" stroke="#ebebeb" stroke-width="0.9"/>
<line x1="227.2" y1="683.4" x2="363.6" y2="683.4" stroke="#ebebeb" stroke-width="0.9"/>
<line x1="227.2" y1="717.9" x2="363.6" y2="717.9" stroke="#ebebeb" stroke-width="0.9"/>
<line x1="252.3" y1="586.1" x2="252.3" y2="726.4" stroke="#ebebeb" stroke-width="0.9"/>
<line x1="295.4" y1="586.1" x2="295.4" y2="726.4" stroke="#ebebeb" stroke-width="0.9"/>
<line x1="338.3" y1="586.1" x2="338.3" y2="726.4" stroke="#ebebeb" stroke-width="0.9"/>
<line x1="241" y1="630.4" x2="241" y2="640.2" stroke="#f8766d" stroke-width="0.8"/>
<line x1="239.7" y1="630.4" x2="242.3" y2="630.4" stroke="#f8766d" stroke-width="0.8"/>
<line x1="239.7" y1="640.2" x2="242.3" y2="640.2" stroke="#f8766d" stroke-width="0.8"/>
<circle cx="241" cy="635.4" r="1.1" fill="#f8766d"/>
<text x="0" y="0" font-size="5.7" text-anchor="middle" fill="#f8766d" transform="translate(241 647.22) scale(1 1.08)">749</text>
<line x1="252.3" y1="632.1" x2="252.3" y2="646.8" stroke="#00ba38" stroke-width="0.8"/>
<line x1="251" y1="632.1" x2="253.6" y2="632.1" stroke="#00ba38" stroke-width="0.8"/>
<line x1="251" y1="646.8" x2="253.6" y2="646.8" stroke="#00ba38" stroke-width="0.8"/>
<circle cx="252.3" cy="639.6" r="1.1" fill="#00ba38"/>
<text x="0" y="0" font-size="5.7" text-anchor="middle" fill="#00ba38" transform="translate(252.3 653.82) scale(1 1.08)">307</text>
<line x1="264" y1="615.5" x2="264" y2="645.3" stroke="#6690e0" stroke-width="0.8"/>
<line x1="262.7" y1="615.5" x2="265.3" y2="615.5" stroke="#6690e0" stroke-width="0.8"/>
<line x1="262.7" y1="645.3" x2="265.3" y2="645.3" stroke="#6690e0" stroke-width="0.8"/>
<circle cx="264" cy="630.8" r="1.1" fill="#6690e0"/>
<text x="0" y="0" font-size="5.7" text-anchor="middle" fill="#6690e0" transform="translate(264 652.92) scale(1 1.08)">45</text>
<line x1="283.7" y1="636.5" x2="283.7" y2="640.5" stroke="#f8766d" stroke-width="0.8"/>
<line x1="282.4" y1="636.5" x2="285" y2="636.5" stroke="#f8766d" stroke-width="0.8"/>
<line x1="282.4" y1="640.5" x2="285" y2="640.5" stroke="#f8766d" stroke-width="0.8"/>
<circle cx="283.7" cy="638.5" r="1.1" fill="#f8766d"/>
<text x="0" y="0" font-size="5.7" text-anchor="middle" fill="#f8766d" transform="translate(283.7 648.52) scale(1 1.08)">6913</text>
<line x1="295.3" y1="633.6" x2="295.3" y2="638" stroke="#00ba38" stroke-width="0.8"/>
<line x1="294" y1="633.6" x2="296.6" y2="633.6" stroke="#00ba38" stroke-width="0.8"/>
<line x1="294" y1="638" x2="296.6" y2="638" stroke="#00ba38" stroke-width="0.8"/>
<circle cx="295.3" cy="635.8" r="1.1" fill="#00ba38"/>
<text x="0" y="0" font-size="5.7" text-anchor="middle" fill="#00ba38" transform="translate(295.3 643.92) scale(1 1.08)">3091</text>
<line x1="306.7" y1="625.5" x2="306.7" y2="635.8" stroke="#6690e0" stroke-width="0.8"/>
<line x1="305.4" y1="625.5" x2="308" y2="625.5" stroke="#6690e0" stroke-width="0.8"/>
<line x1="305.4" y1="635.8" x2="308" y2="635.8" stroke="#6690e0" stroke-width="0.8"/>
<circle cx="306.7" cy="630.8" r="1.1" fill="#6690e0"/>
<text x="0" y="0" font-size="5.7" text-anchor="middle" fill="#6690e0" transform="translate(306.7 642.02) scale(1 1.08)">374</text>
<line x1="326.6" y1="694.5" x2="326.6" y2="696.7" stroke="#f8766d" stroke-width="0.8"/>
<line x1="325.3" y1="694.5" x2="327.9" y2="694.5" stroke="#f8766d" stroke-width="0.8"/>
<line x1="325.3" y1="696.7" x2="327.9" y2="696.7" stroke="#f8766d" stroke-width="0.8"/>
<circle cx="326.6" cy="695.6" r="1.1" fill="#f8766d"/>
<text x="0" y="0" font-size="5.7" text-anchor="middle" fill="#f8766d" transform="translate(326.6 703.32) scale(1 1.08)">15303</text>
<line x1="338.2" y1="688.5" x2="338.2" y2="691.7" stroke="#00ba38" stroke-width="0.8"/>
<line x1="336.9" y1="688.5" x2="339.5" y2="688.5" stroke="#00ba38" stroke-width="0.8"/>
<line x1="336.9" y1="691.7" x2="339.5" y2="691.7" stroke="#00ba38" stroke-width="0.8"/>
<circle cx="338.2" cy="690.1" r="1.1" fill="#00ba38"/>
<text x="0" y="0" font-size="5.7" text-anchor="middle" fill="#00ba38" transform="translate(338.2 697.62) scale(1 1.08)">6571</text>
<line x1="349.4" y1="661.5" x2="349.4" y2="668" stroke="#6690e0" stroke-width="0.8"/>
<line x1="348.1" y1="661.5" x2="350.7" y2="661.5" stroke="#6690e0" stroke-width="0.8"/>
<line x1="348.1" y1="668" x2="350.7" y2="668" stroke="#6690e0" stroke-width="0.8"/>
<circle cx="349.4" cy="664.7" r="1.1" fill="#6690e0"/>
<text x="0" y="0" font-size="5.7" text-anchor="middle" fill="#6690e0" transform="translate(349.4 675.32) scale(1 1.08)">763</text>
<rect x="227.2" y="586.1" width="136.4" height="140.3" fill="none" stroke="#4d4d4d" stroke-width="0.8"/>
<line x1="224.9" y1="614.4" x2="227.2" y2="614.4" stroke="#333333" stroke-width="0.6"/>
<text x="0" y="0" font-size="6.9" text-anchor="end" fill="#333333" transform="translate(223.4 617.08) scale(1 1.08)">1.0</text>
<line x1="224.9" y1="648.9" x2="227.2" y2="648.9" stroke="#333333" stroke-width="0.6"/>
<text x="0" y="0" font-size="6.9" text-anchor="end" fill="#333333" transform="translate(223.4 651.58) scale(1 1.08)">0.5</text>
<line x1="224.9" y1="683.4" x2="227.2" y2="683.4" stroke="#333333" stroke-width="0.6"/>
<text x="0" y="0" font-size="6.9" text-anchor="end" fill="#333333" transform="translate(223.4 686.08) scale(1 1.08)">0.0</text>
<line x1="224.9" y1="717.9" x2="227.2" y2="717.9" stroke="#333333" stroke-width="0.6"/>
<text x="0" y="0" font-size="6.9" text-anchor="end" fill="#333333" transform="translate(223.4 720.58) scale(1 1.08)">−0.5</text>
<line x1="252.3" y1="726.4" x2="252.3" y2="728.7" stroke="#333333" stroke-width="0.6"/>
<line x1="295.4" y1="726.4" x2="295.4" y2="728.7" stroke="#333333" stroke-width="0.6"/>
<line x1="338.3" y1="726.4" x2="338.3" y2="728.7" stroke="#333333" stroke-width="0.6"/>
<text x="0" y="0" font-size="8.4" text-anchor="start" fill="#000" transform="translate(236.4 600.37) scale(1 1.08)">FAM3D</text>
<text x="0" y="0" font-size="6.7" text-anchor="middle" fill="#333333" transform="translate(252.3 735.4) scale(1 1.08)">AA</text>
<text x="0" y="0" font-size="6.7" text-anchor="middle" fill="#333333" transform="translate(295.4 735.4) scale(1 1.08)">GA</text>
<text x="0" y="0" font-size="6.7" text-anchor="middle" fill="#333333" transform="translate(338.3 735.4) scale(1 1.08)">GG</text>
<text x="0" y="0" font-size="8.6" text-anchor="middle" fill="#000" transform="translate(295.4 745.64) scale(1 1.08)">rs507666 (ABO)</text>
<text x="0" y="2.87" font-size="7.96" text-anchor="middle" fill="#000" transform="translate(201 656) scale(1 1.08) rotate(-90)">Protein level (NPX)</text>
<text x="0" y="0" font-size="8.6" text-anchor="start" fill="#000" transform="translate(376.6 627.84) scale(1 1.08)">rs812936</text>
<text x="0" y="0" font-size="8.6" text-anchor="start" fill="#000" transform="translate(376.6 638.84) scale(1 1.08)">(FUT3)</text>
<line x1="378" y1="648.4" x2="388.8" y2="648.4" stroke="#f8766d" stroke-width="0.8"/>
<circle cx="383.4" cy="648.4" r="1.1" fill="#f8766d"/>
<text x="0" y="0" font-size="7" text-anchor="start" fill="#000" transform="translate(394.4 651.12) scale(1 1.08)">AA</text>
<line x1="378" y1="662.4" x2="388.8" y2="662.4" stroke="#00ba38" stroke-width="0.8"/>
<circle cx="383.4" cy="662.4" r="1.1" fill="#00ba38"/>
<text x="0" y="0" font-size="7" text-anchor="start" fill="#000" transform="translate(394.4 665.12) scale(1 1.08)">AG</text>
<line x1="378" y1="676.4" x2="388.8" y2="676.4" stroke="#6690e0" stroke-width="0.8"/>
<circle cx="383.4" cy="676.4" r="1.1" fill="#6690e0"/>
<text x="0" y="0" font-size="7" text-anchor="start" fill="#000" transform="translate(394.4 679.12) scale(1 1.08)">GG</text>
<text x="0" y="0" font-size="13.5" font-weight="bold" fill="#000" transform="translate(193 581.6) scale(1 1.08)">i</text></svg></body></html>
